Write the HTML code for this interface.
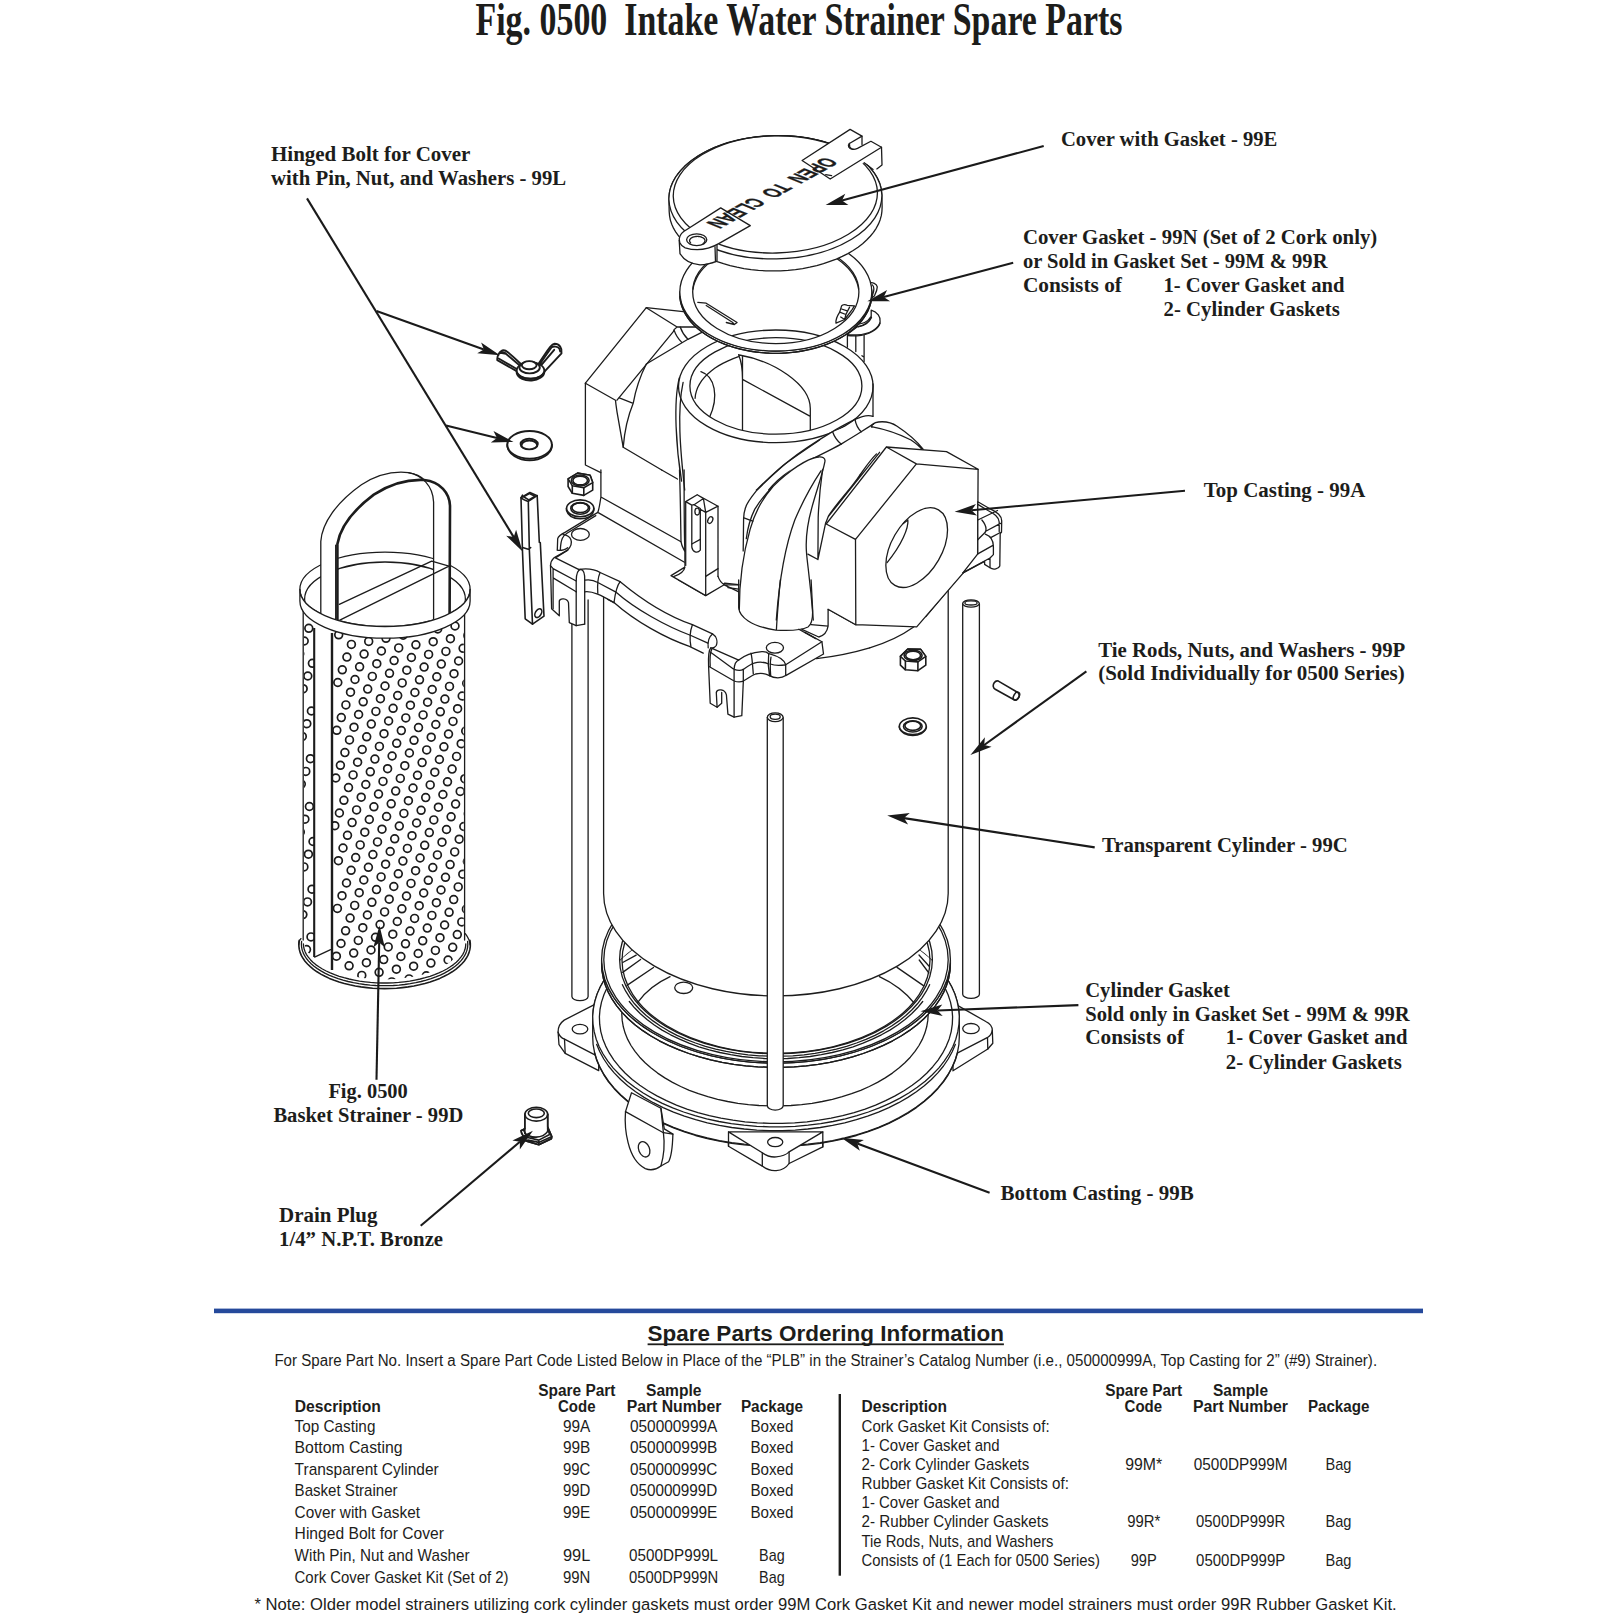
<!DOCTYPE html>
<html lang="en"><head><meta charset="utf-8"><title>Fig. 0500 Intake Water Strainer Spare Parts</title>
<style>
html,body{margin:0;padding:0;background:#fff;}
body{width:1622px;height:1622px;overflow:hidden;}
svg{display:block;}
.ln{fill:none;stroke:#1c1c1c;stroke-width:1.3;stroke-linecap:round;stroke-linejoin:round;}
.lw{fill:#fff;stroke:#1c1c1c;stroke-width:1.3;stroke-linecap:round;stroke-linejoin:round;}
.wf{fill:#fff;stroke:none;}
.t15 .ln,.t15 .lw{stroke-width:1.6;}
.t19 .ln,.t19 .lw{stroke-width:1.9;}
.g path,.g ellipse,.g circle,.g line,.g polyline,.g polygon,.g rect{vector-effect:non-scaling-stroke;}
.ar{fill:none;stroke:#1a1a1a;stroke-width:2.1;}
.ah{fill:#1a1a1a;stroke:none;}
.sf{font-family:"Liberation Serif",serif;font-weight:bold;font-size:20.6px;fill:#1d1d1b;}
.ss{font-family:"Liberation Sans",sans-serif;font-size:16.2px;fill:#1d1d1b;}
.sb{font-family:"Liberation Sans",sans-serif;font-weight:bold;font-size:16px;fill:#1d1d1b;}
</style></head><body>
<svg width="1622" height="1622" viewBox="0 0 1622 1622">
<rect width="1622" height="1622" fill="#fff"/>
<!-- 20_bottom.svg -->
<g id="bottom">
<path class="lw" d="M571.9 600.0 L571.9 996.5 A8.1 4.2 0 0 0 588.1 996.5 L588.1 600.0"/>
<path class="lw" d="M962.7 603.5 L962.7 994.2 A8.3 4.2 0 0 0 979.4 994.2 L979.4 603.5"/><ellipse class="lw" cx="971.0" cy="603.5" rx="8.3" ry="3.6"/><ellipse class="ln" cx="971.0" cy="602.9" rx="6.1" ry="2.1"/>
<path class="lw" d="M 597.8 1002.9 L 564.2 1020.1 C 559.3 1023.6 558.0 1027.9 558.1 1032.2 L 559.0 1044.7 L 565.2 1053.3 L 598.7 1070.6 L 598.7 1002.9 Z"/>
<path class="ln" d="M 558.1 1032.2 C 559.3 1036.0 561.6 1038.1 564.5 1039.1 L 597.8 1056.4"/>
<path class="ln" d="M 564.5 1039.1 L 565.2 1053.3"/>
<ellipse class="ln" cx="580.0" cy="1029.1" rx="7.8" ry="4.8"/>
<path class="lw" d="M 952.5 1003.5 L 955.7 1004.4 L 985.8 1021.5 C 990.4 1023.8 992.3 1026.6 992.3 1030.3 L 992.8 1043.3 L 987.8 1049.0 L 953.0 1070.8 Z"/>
<path class="ln" d="M 992.3 1030.3 C 991.8 1034.0 989.5 1036.3 987.2 1037.7 L 953.4 1055.1"/>
<path class="ln" d="M 987.5 1037.7 L 987.8 1049.0"/>
<ellipse class="ln" cx="971.0" cy="1028.6" rx="8.3" ry="5.1"/>
<path class="lw" d="M 728.5 1130.6 L 728.5 1146.3 L 762.3 1166.1 C 766.9 1169.5 772.5 1170.9 776.2 1170.6 C 781.7 1170.2 786.3 1167.6 789.1 1163.5 L 822.8 1146.9 L 822.8 1130.6 Z"/>
<polygon class="lw" points="592.7,1017.9 593.1,1010.3 594.5,1002.7 596.7,995.2 599.8,987.9 603.8,980.6 608.5,973.6 614.2,966.7 620.6,960.1 627.7,953.8 635.6,947.8 644.1,942.2 653.3,936.9 663.1,932.0 673.5,927.5 684.3,923.5 695.6,919.9 707.3,916.8 719.4,914.2 731.7,912.1 744.2,910.6 756.8,909.5 769.6,909.0 782.4,909.0 795.2,909.5 807.8,910.6 820.3,912.1 832.6,914.2 844.7,916.8 856.4,919.9 867.6,923.5 878.5,927.5 888.9,932.0 898.7,936.9 907.9,942.2 916.4,947.8 924.3,953.8 931.4,960.1 937.8,966.7 943.5,973.6 948.2,980.6 952.2,987.9 955.3,995.2 957.5,1002.7 958.9,1010.3 959.3,1017.9 959.3,1036.9 958.9,1044.5 957.5,1052.1 955.3,1059.6 952.2,1066.9 948.2,1074.2 943.5,1081.2 937.8,1088.1 931.4,1094.7 924.3,1101.0 916.4,1107.0 907.9,1112.6 898.7,1117.9 888.9,1122.8 878.5,1127.3 867.6,1131.3 856.4,1134.9 844.7,1138.0 832.6,1140.6 820.3,1142.7 807.8,1144.2 795.2,1145.3 782.4,1145.8 769.6,1145.8 756.8,1145.3 744.2,1144.2 731.7,1142.7 719.4,1140.6 707.3,1138.0 695.6,1134.9 684.4,1131.3 673.5,1127.3 663.1,1122.8 653.3,1117.9 644.1,1112.6 635.6,1107.0 627.7,1101.0 620.6,1094.7 614.2,1088.1 608.5,1081.2 603.8,1074.2 599.8,1066.9 596.7,1059.6 594.5,1052.1 593.1,1044.5 592.7,1036.9"/>
<polyline class="ln" points="957.5,1052.7 955.3,1060.2 952.2,1067.5 948.2,1074.8 943.5,1081.8 937.8,1088.7 931.4,1095.3 924.3,1101.6 916.4,1107.6 907.9,1113.2 898.7,1118.5 888.9,1123.4 878.5,1127.9 867.6,1131.9 856.4,1135.5 844.7,1138.6 832.6,1141.2 820.3,1143.3 807.8,1144.8 795.2,1145.9 782.4,1146.4 769.6,1146.4 756.8,1145.9 744.2,1144.8 731.7,1143.3 719.4,1141.2 707.3,1138.6 695.6,1135.5 684.4,1131.9 673.5,1127.9 663.1,1123.4 653.3,1118.5 644.1,1113.2 635.6,1107.6 627.7,1101.6 620.6,1095.3 614.2,1088.7 608.5,1081.8 603.8,1074.8 599.8,1067.5 596.7,1060.2 594.5,1052.7"/>
<ellipse class="wf" cx="776.0" cy="1017.9" rx="183.3" ry="109.0"/>
<polyline class="ln" points="947.1,978.8 951.3,986.1 954.7,993.5 957.1,1001.1 958.6,1008.7 959.3,1016.3 959.0,1024.0 957.8,1031.7 955.8,1039.2 952.8,1046.7 948.9,1054.0 944.2,1061.2 938.7,1068.1 932.3,1074.8 925.2,1081.2 917.3,1087.3 908.8,1093.0 899.6,1098.4 889.7,1103.4 879.3,1107.9 868.4,1112.0 857.0,1115.7 845.3,1118.8 833.1,1121.5 820.7,1123.6 808.1,1125.2 795.3,1126.3 782.5,1126.8 769.5,1126.8 756.7,1126.3 743.9,1125.2 731.3,1123.6 718.9,1121.5 706.7,1118.8 695.0,1115.7 683.6,1112.0 672.7,1107.9 662.3,1103.4 652.4,1098.4 643.2,1093.0 634.7,1087.3 626.8,1081.2 619.7,1074.8 613.3,1068.1 607.8,1061.2 603.1,1054.0 599.2,1046.7 596.2,1039.2 594.2,1031.7 593.0,1024.0 592.7,1016.3 593.4,1008.7 594.9,1001.1 597.3,993.5 600.7,986.1 604.9,978.8"/>
<polyline class="ln" points="955.3,1044.4 952.2,1051.7 948.2,1059.0 943.5,1066.0 937.8,1072.9 931.4,1079.5 924.3,1085.8 916.4,1091.8 907.9,1097.4 898.7,1102.7 888.9,1107.6 878.5,1112.1 867.6,1116.1 856.4,1119.7 844.7,1122.8 832.6,1125.4 820.3,1127.5 807.8,1129.0 795.2,1130.1 782.4,1130.6 769.6,1130.6 756.8,1130.1 744.2,1129.0 731.7,1127.5 719.4,1125.4 707.3,1122.8 695.6,1119.7 684.4,1116.1 673.5,1112.1 663.1,1107.6 653.3,1102.7 644.1,1097.4 635.6,1091.8 627.7,1085.8 620.6,1079.5 614.2,1072.9 608.5,1066.0 603.8,1059.0 599.8,1051.7 596.7,1044.4"/>
<path class="lw" d="M 728.5 1131.9 L 762.3 1152.8 C 766.9 1156.1 772.5 1157.3 776.2 1156.9 C 781.7 1156.5 786.3 1154.7 789.1 1151.9 L 822.8 1131.9 Z"/>
<path class="ln" d="M 762.3 1152.8 L 762.3 1166.1 M 789.1 1151.9 L 789.1 1163.5 M 728.5 1131.9 L 728.5 1146.3 M 822.8 1131.9 L 822.8 1146.9"/>
<ellipse class="ln" cx="775.2" cy="1142.1" rx="7.6" ry="4.6"/>
<path class="lw" d="M 631.5 1092.7 L 625.5 1111.6 C 624.6 1123.7 626.3 1135.8 628.1 1142.7 C 631.5 1156.5 638.4 1165.2 645.3 1168.6 C 650.5 1170.7 655.7 1170.0 660.9 1166.0 L 668.6 1161.7 C 671.6 1156.5 672.6 1144.4 672.9 1134.1 L 664.3 1128.9 L 660.9 1108.2 Z"/>
<path class="ln" d="M 625.5 1111.6 L 663.4 1132.7 L 672.9 1134.1"/>
<path class="ln" d="M 663.4 1132.7 C 664.7 1142.7 664.7 1153.1 660.9 1166.0"/>
<path class="ln" d="M 660.9 1108.2 L 663.4 1132.7"/>
<ellipse class="ln" cx="644.1" cy="1149.3" rx="5.4" ry="8" transform="rotate(-22 644.1 1149.3)"/>
<polyline class="ln" points="944.9,987.7 948.1,994.8 950.5,1002.1 952.0,1009.5 952.6,1016.8 952.3,1024.2 951.2,1031.6 949.2,1038.9 946.3,1046.1 942.6,1053.2 938.1,1060.1 932.8,1066.7 926.7,1073.2 919.8,1079.4 912.2,1085.2 904.0,1090.8 895.1,1095.9 885.6,1100.7 875.6,1105.1 865.1,1109.1 854.1,1112.6 842.7,1115.6 831.1,1118.2 819.1,1120.2 807.0,1121.8 794.6,1122.8 782.2,1123.3 769.8,1123.3 757.4,1122.8 745.0,1121.8 732.9,1120.2 720.9,1118.2 709.3,1115.6 697.9,1112.6 686.9,1109.1 676.4,1105.1 666.4,1100.7 656.9,1095.9 648.0,1090.8 639.8,1085.2 632.2,1079.4 625.3,1073.2 619.2,1066.7 613.9,1060.1 609.4,1053.2 605.7,1046.1 602.8,1038.9 600.8,1031.6 599.7,1024.2 599.4,1016.8 600.0,1009.5 601.5,1002.1 603.9,994.8 607.1,987.7"/>
<polyline class="ln" points="924.9,994.9 926.7,1001.2 927.8,1007.6 928.2,1014.0 927.8,1020.4 926.7,1026.8 924.9,1033.1 922.3,1039.4 919.0,1045.5 915.0,1051.4 910.3,1057.2 904.9,1062.8 898.9,1068.1 892.4,1073.1 885.2,1077.9 877.5,1082.4 869.3,1086.5 860.7,1090.3 851.6,1093.7 842.2,1096.7 832.4,1099.3 822.3,1101.5 812.1,1103.3 801.6,1104.6 791.0,1105.5 780.3,1105.9 769.7,1105.9 759.0,1105.5 748.4,1104.6 737.9,1103.3 727.7,1101.5 717.6,1099.3 707.8,1096.7 698.4,1093.7 689.3,1090.3 680.7,1086.5 672.5,1082.4 664.8,1077.9 657.6,1073.1 651.1,1068.1 645.1,1062.8 639.7,1057.2 635.0,1051.4 631.0,1045.5 627.7,1039.4 625.1,1033.1 623.3,1026.8 622.2,1020.4 621.8,1014.0 622.2,1007.6 623.3,1001.2 625.1,994.9"/>
<line class="ln" x1="622.7" y1="962.5" x2="636.2" y2="955.1"/>
<line class="ln" x1="622.7" y1="972.4" x2="640.6" y2="959.5"/>
<line class="ln" x1="627.0" y1="985.4" x2="653.5" y2="967.5"/>
<path class="ln" d="M 637.5 1002.6 C 645.5 991.5 656.6 982.9 670.1 976.7"/>
<line class="ln" x1="928.9" y1="973.0" x2="919.2" y2="960.0"/>
<line class="ln" x1="923.8" y1="985.9" x2="897.0" y2="967.4"/>
<path class="ln" d="M 914.6 1003.5 C 906.3 993.3 893.3 983.1 879.4 976.7"/>
<line class="ln" x1="928.9" y1="966.0" x2="919.0" y2="955.0"/>
<ellipse class="ln" cx="683.7" cy="987.8" rx="9.0" ry="5.7"/>
<polygon class="lw" points="950.4,959.5 950.0,966.7 948.7,973.9 946.6,981.0 943.6,988.1 939.9,994.9 935.3,1001.6 930.0,1008.1 923.9,1014.4 917.1,1020.4 909.6,1026.1 901.5,1031.5 892.7,1036.5 883.4,1041.1 873.5,1045.4 863.2,1049.2 852.5,1052.6 841.3,1055.6 829.9,1058.0 818.2,1060.0 806.3,1061.5 794.2,1062.5 782.1,1063.0 769.9,1063.0 757.8,1062.5 745.7,1061.5 733.8,1060.0 722.1,1058.0 710.7,1055.6 699.5,1052.6 688.8,1049.2 678.5,1045.4 668.6,1041.1 659.3,1036.5 650.5,1031.5 642.4,1026.1 634.9,1020.4 628.1,1014.4 622.0,1008.1 616.7,1001.6 612.1,994.9 608.4,988.1 605.4,981.0 603.3,973.9 602.0,966.7 601.6,959.5 601.6,963.8 602.0,971.0 603.3,978.2 605.4,985.3 608.4,992.4 612.1,999.2 616.7,1005.9 622.0,1012.4 628.1,1018.7 634.9,1024.7 642.4,1030.4 650.5,1035.8 659.3,1040.8 668.6,1045.4 678.5,1049.7 688.8,1053.5 699.5,1056.9 710.7,1059.9 722.1,1062.3 733.8,1064.3 745.7,1065.8 757.8,1066.8 769.9,1067.3 782.1,1067.3 794.2,1066.8 806.3,1065.8 818.2,1064.3 829.9,1062.3 841.3,1059.9 852.5,1056.9 863.2,1053.5 873.5,1049.7 883.4,1045.4 892.7,1040.8 901.5,1035.8 909.6,1030.4 917.1,1024.7 923.9,1018.7 930.0,1012.4 935.3,1005.9 939.9,999.2 943.6,992.4 946.6,985.3 948.7,978.2 950.0,971.0 950.4,963.8"/>
<path class="lw" d="M601.6 959.5 a174.4 103.6 0 1 0 348.8 0 a174.4 103.6 0 1 0 -348.8 0 Z M619.6 959.5 a156.4 94.2 0 1 1 312.8 0 a156.4 94.2 0 1 1 -312.8 0 Z" fill-rule="evenodd"/>
<polyline class="ln" points="950.4,963.8 950.0,971.0 948.7,978.2 946.6,985.3 943.6,992.4 939.9,999.2 935.3,1005.9 930.0,1012.4 923.9,1018.7 917.1,1024.7 909.6,1030.4 901.5,1035.8 892.7,1040.8 883.4,1045.4 873.5,1049.7 863.2,1053.5 852.5,1056.9 841.3,1059.9 829.9,1062.3 818.2,1064.3 806.3,1065.8 794.2,1066.8 782.1,1067.3 769.9,1067.3 757.8,1066.8 745.7,1065.8 733.8,1064.3 722.1,1062.3 710.7,1059.9 699.5,1056.9 688.8,1053.5 678.5,1049.7 668.6,1045.4 659.3,1040.8 650.5,1035.8 642.4,1030.4 634.9,1024.7 628.1,1018.7 622.0,1012.4 616.7,1005.9 612.1,999.2 608.4,992.4 605.4,985.3 603.3,978.2 602.0,971.0 601.6,963.8"/>
<ellipse class="ln" cx="776.0" cy="959.7" rx="172.2" ry="102.1"/>
<polyline class="ln" points="922.7,1001.5 917.5,1007.8 911.6,1013.8 905.0,1019.5 897.7,1025.0 889.9,1030.1 881.4,1034.8 872.4,1039.2 863.0,1043.2 853.1,1046.8 842.8,1049.9 832.2,1052.5 821.3,1054.7 810.2,1056.5 798.9,1057.7 787.5,1058.5 776.0,1058.7 764.5,1058.5 753.1,1057.7 741.8,1056.5 730.7,1054.7 719.8,1052.5 709.2,1049.9 698.9,1046.8 689.0,1043.2 679.6,1039.2 670.6,1034.8 662.1,1030.1 654.3,1025.0 647.0,1019.5 640.4,1013.8 634.5,1007.8 629.3,1001.5"/>
<polyline class="ln" points="929.6,984.7 926.3,991.2 922.2,997.6 917.5,1003.8 912.0,1009.8 905.8,1015.5 899.0,1020.9 891.6,1026.0 883.6,1030.8 875.0,1035.3 866.0,1039.3 856.5,1043.0 846.6,1046.3 836.3,1049.1 825.8,1051.4 815.0,1053.4 804.0,1054.8 792.8,1055.8 781.6,1056.2 770.4,1056.2 759.2,1055.8 748.0,1054.8 737.0,1053.4 726.2,1051.4 715.7,1049.1 705.4,1046.3 695.5,1043.0 686.0,1039.3 677.0,1035.3 668.4,1030.8 660.4,1026.0 653.0,1020.9 646.2,1015.5 640.0,1009.8 634.5,1003.8 629.8,997.6 625.7,991.2 622.4,984.7"/>
<ellipse class="ln" cx="776.0" cy="960.3" rx="154.0" ry="93.0"/>
<path class="lw" d="M603.6 560 L603.6 893.4 A172.3 102.6 0 0 0 948.2 893.4 L948.2 560 Z"/>
</g>

<!-- 30_basket.svg -->
<g id="basket">
<path class="wf" d="M303.2 598 L303.2 940 A80.7 41.0 0 0 0 464.6 940 L464.6 598 Z"/>
<clipPath id="bk"><path d="M304.0 600 A80.7 37.2 0 0 0 463.8 600 L463.8 940 A79.9 39.5 0 0 1 304.0 940 Z"/></clipPath>
<g clip-path="url(#bk)" fill="none" stroke="#1c1c1c" stroke-width="1.7">
<circle cx="300.6" cy="606.0" r="3.9"/>
<circle cx="308.8" cy="628.3" r="3.9"/>
<circle cx="304.2" cy="641.0" r="3.9"/>
<circle cx="299.7" cy="653.7" r="3.9"/>
<circle cx="312.4" cy="663.3" r="3.9"/>
<circle cx="307.8" cy="676.0" r="3.9"/>
<circle cx="303.2" cy="688.7" r="3.9"/>
<circle cx="338.7" cy="634.8" r="3.9"/>
<circle cx="311.4" cy="711.0" r="3.9"/>
<circle cx="306.8" cy="723.7" r="3.9"/>
<circle cx="302.3" cy="736.4" r="3.9"/>
<circle cx="351.4" cy="644.4" r="3.9"/>
<circle cx="346.9" cy="657.1" r="3.9"/>
<circle cx="342.3" cy="669.8" r="3.9"/>
<circle cx="337.8" cy="682.5" r="3.9"/>
<circle cx="310.4" cy="758.7" r="3.9"/>
<circle cx="305.8" cy="771.4" r="3.9"/>
<circle cx="301.3" cy="784.1" r="3.9"/>
<circle cx="368.7" cy="641.4" r="3.9"/>
<circle cx="364.1" cy="654.1" r="3.9"/>
<circle cx="359.6" cy="666.8" r="3.9"/>
<circle cx="355.0" cy="679.5" r="3.9"/>
<circle cx="350.5" cy="692.2" r="3.9"/>
<circle cx="345.9" cy="704.9" r="3.9"/>
<circle cx="341.3" cy="717.6" r="3.9"/>
<circle cx="336.8" cy="730.3" r="3.9"/>
<circle cx="309.4" cy="806.5" r="3.9"/>
<circle cx="304.9" cy="819.2" r="3.9"/>
<circle cx="300.3" cy="831.9" r="3.9"/>
<circle cx="386.0" cy="638.3" r="3.9"/>
<circle cx="381.4" cy="651.0" r="3.9"/>
<circle cx="376.8" cy="663.7" r="3.9"/>
<circle cx="372.3" cy="676.4" r="3.9"/>
<circle cx="367.7" cy="689.1" r="3.9"/>
<circle cx="363.2" cy="701.8" r="3.9"/>
<circle cx="358.6" cy="714.5" r="3.9"/>
<circle cx="354.0" cy="727.2" r="3.9"/>
<circle cx="349.5" cy="739.9" r="3.9"/>
<circle cx="344.9" cy="752.6" r="3.9"/>
<circle cx="340.4" cy="765.3" r="3.9"/>
<circle cx="335.8" cy="778.0" r="3.9"/>
<circle cx="313.0" cy="841.5" r="3.9"/>
<circle cx="308.4" cy="854.2" r="3.9"/>
<circle cx="303.9" cy="866.9" r="3.9"/>
<circle cx="299.3" cy="879.6" r="3.9"/>
<circle cx="403.2" cy="635.2" r="3.9"/>
<circle cx="398.7" cy="647.9" r="3.9"/>
<circle cx="394.1" cy="660.6" r="3.9"/>
<circle cx="389.5" cy="673.3" r="3.9"/>
<circle cx="385.0" cy="686.0" r="3.9"/>
<circle cx="380.4" cy="698.7" r="3.9"/>
<circle cx="375.9" cy="711.4" r="3.9"/>
<circle cx="371.3" cy="724.1" r="3.9"/>
<circle cx="366.7" cy="736.8" r="3.9"/>
<circle cx="362.2" cy="749.5" r="3.9"/>
<circle cx="357.6" cy="762.2" r="3.9"/>
<circle cx="353.1" cy="774.9" r="3.9"/>
<circle cx="348.5" cy="787.6" r="3.9"/>
<circle cx="343.9" cy="800.3" r="3.9"/>
<circle cx="339.4" cy="813.0" r="3.9"/>
<circle cx="334.8" cy="825.7" r="3.9"/>
<circle cx="312.0" cy="889.2" r="3.9"/>
<circle cx="307.5" cy="901.9" r="3.9"/>
<circle cx="302.9" cy="914.6" r="3.9"/>
<circle cx="415.9" cy="644.8" r="3.9"/>
<circle cx="411.4" cy="657.5" r="3.9"/>
<circle cx="406.8" cy="670.2" r="3.9"/>
<circle cx="402.2" cy="682.9" r="3.9"/>
<circle cx="397.7" cy="695.6" r="3.9"/>
<circle cx="393.1" cy="708.3" r="3.9"/>
<circle cx="388.6" cy="721.0" r="3.9"/>
<circle cx="384.0" cy="733.7" r="3.9"/>
<circle cx="379.4" cy="746.4" r="3.9"/>
<circle cx="374.9" cy="759.1" r="3.9"/>
<circle cx="370.3" cy="771.8" r="3.9"/>
<circle cx="365.8" cy="784.5" r="3.9"/>
<circle cx="361.2" cy="797.2" r="3.9"/>
<circle cx="356.6" cy="809.9" r="3.9"/>
<circle cx="352.1" cy="822.6" r="3.9"/>
<circle cx="347.5" cy="835.3" r="3.9"/>
<circle cx="343.0" cy="848.0" r="3.9"/>
<circle cx="338.4" cy="860.7" r="3.9"/>
<circle cx="311.0" cy="936.9" r="3.9"/>
<circle cx="306.5" cy="949.6" r="3.9"/>
<circle cx="437.7" cy="629.0" r="3.9"/>
<circle cx="433.2" cy="641.7" r="3.9"/>
<circle cx="428.6" cy="654.4" r="3.9"/>
<circle cx="424.1" cy="667.1" r="3.9"/>
<circle cx="419.5" cy="679.8" r="3.9"/>
<circle cx="414.9" cy="692.5" r="3.9"/>
<circle cx="410.4" cy="705.2" r="3.9"/>
<circle cx="405.8" cy="717.9" r="3.9"/>
<circle cx="401.3" cy="730.6" r="3.9"/>
<circle cx="396.7" cy="743.3" r="3.9"/>
<circle cx="392.1" cy="756.0" r="3.9"/>
<circle cx="387.6" cy="768.7" r="3.9"/>
<circle cx="383.0" cy="781.4" r="3.9"/>
<circle cx="378.5" cy="794.1" r="3.9"/>
<circle cx="373.9" cy="806.8" r="3.9"/>
<circle cx="369.3" cy="819.5" r="3.9"/>
<circle cx="364.8" cy="832.2" r="3.9"/>
<circle cx="360.2" cy="844.9" r="3.9"/>
<circle cx="355.7" cy="857.6" r="3.9"/>
<circle cx="351.1" cy="870.3" r="3.9"/>
<circle cx="346.5" cy="883.0" r="3.9"/>
<circle cx="342.0" cy="895.7" r="3.9"/>
<circle cx="337.4" cy="908.4" r="3.9"/>
<circle cx="455.0" cy="626.0" r="3.9"/>
<circle cx="450.4" cy="638.7" r="3.9"/>
<circle cx="445.9" cy="651.4" r="3.9"/>
<circle cx="441.3" cy="664.1" r="3.9"/>
<circle cx="436.8" cy="676.8" r="3.9"/>
<circle cx="432.2" cy="689.5" r="3.9"/>
<circle cx="427.6" cy="702.2" r="3.9"/>
<circle cx="423.1" cy="714.9" r="3.9"/>
<circle cx="418.5" cy="727.6" r="3.9"/>
<circle cx="414.0" cy="740.3" r="3.9"/>
<circle cx="409.4" cy="753.0" r="3.9"/>
<circle cx="404.8" cy="765.7" r="3.9"/>
<circle cx="400.3" cy="778.4" r="3.9"/>
<circle cx="395.7" cy="791.1" r="3.9"/>
<circle cx="391.2" cy="803.8" r="3.9"/>
<circle cx="386.6" cy="816.5" r="3.9"/>
<circle cx="382.0" cy="829.2" r="3.9"/>
<circle cx="377.5" cy="841.9" r="3.9"/>
<circle cx="372.9" cy="854.6" r="3.9"/>
<circle cx="368.4" cy="867.3" r="3.9"/>
<circle cx="363.8" cy="880.0" r="3.9"/>
<circle cx="359.2" cy="892.7" r="3.9"/>
<circle cx="354.7" cy="905.4" r="3.9"/>
<circle cx="350.1" cy="918.1" r="3.9"/>
<circle cx="345.6" cy="930.8" r="3.9"/>
<circle cx="341.0" cy="943.5" r="3.9"/>
<circle cx="336.4" cy="956.2" r="3.9"/>
<circle cx="467.7" cy="635.6" r="3.9"/>
<circle cx="463.1" cy="648.3" r="3.9"/>
<circle cx="458.6" cy="661.0" r="3.9"/>
<circle cx="454.0" cy="673.7" r="3.9"/>
<circle cx="449.5" cy="686.4" r="3.9"/>
<circle cx="444.9" cy="699.1" r="3.9"/>
<circle cx="440.3" cy="711.8" r="3.9"/>
<circle cx="435.8" cy="724.5" r="3.9"/>
<circle cx="431.2" cy="737.2" r="3.9"/>
<circle cx="426.7" cy="749.9" r="3.9"/>
<circle cx="422.1" cy="762.6" r="3.9"/>
<circle cx="417.5" cy="775.3" r="3.9"/>
<circle cx="413.0" cy="788.0" r="3.9"/>
<circle cx="408.4" cy="800.7" r="3.9"/>
<circle cx="403.9" cy="813.4" r="3.9"/>
<circle cx="399.3" cy="826.1" r="3.9"/>
<circle cx="394.7" cy="838.8" r="3.9"/>
<circle cx="390.2" cy="851.5" r="3.9"/>
<circle cx="385.6" cy="864.2" r="3.9"/>
<circle cx="381.1" cy="876.9" r="3.9"/>
<circle cx="376.5" cy="889.6" r="3.9"/>
<circle cx="371.9" cy="902.3" r="3.9"/>
<circle cx="367.4" cy="915.0" r="3.9"/>
<circle cx="362.8" cy="927.7" r="3.9"/>
<circle cx="358.3" cy="940.4" r="3.9"/>
<circle cx="353.7" cy="953.1" r="3.9"/>
<circle cx="349.1" cy="965.8" r="3.9"/>
<circle cx="466.7" cy="683.3" r="3.9"/>
<circle cx="462.2" cy="696.0" r="3.9"/>
<circle cx="457.6" cy="708.7" r="3.9"/>
<circle cx="453.0" cy="721.4" r="3.9"/>
<circle cx="448.5" cy="734.1" r="3.9"/>
<circle cx="443.9" cy="746.8" r="3.9"/>
<circle cx="439.4" cy="759.5" r="3.9"/>
<circle cx="434.8" cy="772.2" r="3.9"/>
<circle cx="430.2" cy="784.9" r="3.9"/>
<circle cx="425.7" cy="797.6" r="3.9"/>
<circle cx="421.1" cy="810.3" r="3.9"/>
<circle cx="416.6" cy="823.0" r="3.9"/>
<circle cx="412.0" cy="835.7" r="3.9"/>
<circle cx="407.4" cy="848.4" r="3.9"/>
<circle cx="402.9" cy="861.1" r="3.9"/>
<circle cx="398.3" cy="873.8" r="3.9"/>
<circle cx="393.8" cy="886.5" r="3.9"/>
<circle cx="389.2" cy="899.2" r="3.9"/>
<circle cx="384.6" cy="911.9" r="3.9"/>
<circle cx="380.1" cy="924.6" r="3.9"/>
<circle cx="375.5" cy="937.3" r="3.9"/>
<circle cx="371.0" cy="950.0" r="3.9"/>
<circle cx="366.4" cy="962.7" r="3.9"/>
<circle cx="361.8" cy="975.4" r="3.9"/>
<circle cx="465.7" cy="731.0" r="3.9"/>
<circle cx="461.2" cy="743.7" r="3.9"/>
<circle cx="456.6" cy="756.4" r="3.9"/>
<circle cx="452.1" cy="769.1" r="3.9"/>
<circle cx="447.5" cy="781.8" r="3.9"/>
<circle cx="442.9" cy="794.5" r="3.9"/>
<circle cx="438.4" cy="807.2" r="3.9"/>
<circle cx="433.8" cy="819.9" r="3.9"/>
<circle cx="429.3" cy="832.6" r="3.9"/>
<circle cx="424.7" cy="845.3" r="3.9"/>
<circle cx="420.1" cy="858.0" r="3.9"/>
<circle cx="415.6" cy="870.7" r="3.9"/>
<circle cx="411.0" cy="883.4" r="3.9"/>
<circle cx="406.5" cy="896.1" r="3.9"/>
<circle cx="401.9" cy="908.8" r="3.9"/>
<circle cx="397.3" cy="921.5" r="3.9"/>
<circle cx="392.8" cy="934.2" r="3.9"/>
<circle cx="388.2" cy="946.9" r="3.9"/>
<circle cx="383.7" cy="959.6" r="3.9"/>
<circle cx="379.1" cy="972.3" r="3.9"/>
<circle cx="464.8" cy="778.7" r="3.9"/>
<circle cx="460.2" cy="791.4" r="3.9"/>
<circle cx="455.6" cy="804.1" r="3.9"/>
<circle cx="451.1" cy="816.8" r="3.9"/>
<circle cx="446.5" cy="829.5" r="3.9"/>
<circle cx="442.0" cy="842.2" r="3.9"/>
<circle cx="437.4" cy="854.9" r="3.9"/>
<circle cx="432.8" cy="867.6" r="3.9"/>
<circle cx="428.3" cy="880.3" r="3.9"/>
<circle cx="423.7" cy="893.0" r="3.9"/>
<circle cx="419.2" cy="905.7" r="3.9"/>
<circle cx="414.6" cy="918.4" r="3.9"/>
<circle cx="410.0" cy="931.1" r="3.9"/>
<circle cx="405.5" cy="943.8" r="3.9"/>
<circle cx="400.9" cy="956.5" r="3.9"/>
<circle cx="396.4" cy="969.2" r="3.9"/>
<circle cx="391.8" cy="981.9" r="3.9"/>
<circle cx="468.3" cy="813.8" r="3.9"/>
<circle cx="463.8" cy="826.5" r="3.9"/>
<circle cx="459.2" cy="839.2" r="3.9"/>
<circle cx="454.7" cy="851.9" r="3.9"/>
<circle cx="450.1" cy="864.6" r="3.9"/>
<circle cx="445.5" cy="877.3" r="3.9"/>
<circle cx="441.0" cy="890.0" r="3.9"/>
<circle cx="436.4" cy="902.7" r="3.9"/>
<circle cx="431.9" cy="915.4" r="3.9"/>
<circle cx="427.3" cy="928.1" r="3.9"/>
<circle cx="422.7" cy="940.8" r="3.9"/>
<circle cx="418.2" cy="953.5" r="3.9"/>
<circle cx="413.6" cy="966.2" r="3.9"/>
<circle cx="409.1" cy="978.9" r="3.9"/>
<circle cx="467.4" cy="861.5" r="3.9"/>
<circle cx="462.8" cy="874.2" r="3.9"/>
<circle cx="458.2" cy="886.9" r="3.9"/>
<circle cx="453.7" cy="899.6" r="3.9"/>
<circle cx="449.1" cy="912.3" r="3.9"/>
<circle cx="444.6" cy="925.0" r="3.9"/>
<circle cx="440.0" cy="937.7" r="3.9"/>
<circle cx="435.4" cy="950.4" r="3.9"/>
<circle cx="430.9" cy="963.1" r="3.9"/>
<circle cx="426.3" cy="975.8" r="3.9"/>
<circle cx="466.4" cy="909.2" r="3.9"/>
<circle cx="461.8" cy="921.9" r="3.9"/>
<circle cx="457.3" cy="934.6" r="3.9"/>
<circle cx="452.7" cy="947.3" r="3.9"/>
<circle cx="448.1" cy="960.0" r="3.9"/>
</g>
<line class="ln" x1="303.2" y1="590.0" x2="303.2" y2="940.0"/>
<line class="ln" x1="464.6" y1="590.0" x2="464.6" y2="940.0"/>
<rect x="314.2" y="600" width="17.8" height="365" fill="#fff"/>
<line x1="314.2" y1="628" x2="314.2" y2="957" stroke="#1c1c1c" stroke-width="2.1"/>
<line x1="332" y1="633" x2="332" y2="970" stroke="#1c1c1c" stroke-width="2.4"/>
<path class="ln" d="M 314.6 957.1 L 330.6 949.7"/>
<polyline class="ln" style="stroke-width:1.6" points="469.9,940.2 470.3,943.3 470.3,946.3 469.9,949.4 469.1,952.4 467.9,955.4 466.2,958.3 464.2,961.2 461.7,964.0 458.9,966.7 455.7,969.3 452.2,971.8 448.4,974.1 444.2,976.3 439.8,978.4 435.0,980.2 430.1,981.9 424.9,983.5 419.5,984.8 413.9,986.0 408.2,986.9 402.4,987.6 396.5,988.2 390.6,988.5 384.6,988.6 378.6,988.5 372.7,988.2 366.8,987.6 361.0,986.9 355.3,986.0 349.7,984.8 344.3,983.5 339.1,981.9 334.2,980.2 329.4,978.4 325.0,976.3 320.8,974.1 317.0,971.8 313.5,969.3 310.3,966.7 307.5,964.0 305.0,961.2 303.0,958.3 301.3,955.4 300.1,952.4 299.3,949.4 298.9,946.3 298.9,943.3 299.3,940.2"/>
<polyline class="ln" points="467.6,941.4 467.8,944.3 467.6,947.2 467.0,950.1 466.0,952.9 464.6,955.7 462.8,958.5 460.6,961.1 458.1,963.7 455.2,966.2 451.9,968.6 448.3,970.9 444.4,973.1 440.3,975.1 435.8,976.9 431.1,978.6 426.2,980.2 421.1,981.5 415.8,982.7 410.3,983.7 404.7,984.5 399.0,985.1 393.3,985.5 387.5,985.7 381.7,985.7 375.9,985.5 370.2,985.1 364.5,984.5 358.9,983.7 353.4,982.7 348.1,981.5 343.0,980.2 338.1,978.6 333.4,976.9 328.9,975.1 324.8,973.1 320.9,970.9 317.3,968.6 314.0,966.2 311.1,963.7 308.6,961.1 306.4,958.5 304.6,955.7 303.2,952.9 302.2,950.1 301.6,947.2 301.4,944.3 301.6,941.4"/>
<polyline class="ln" points="465.8,943.8 465.6,946.5 465.0,949.3 464.0,952.0 462.7,954.6 460.9,957.2 458.8,959.7 456.3,962.2 453.5,964.6 450.3,966.8 446.8,969.0 443.0,971.0 438.9,972.9 434.6,974.7 430.0,976.3 425.2,977.7 420.2,979.0 415.0,980.1 409.7,981.1 404.2,981.8 398.7,982.4 393.1,982.8 387.4,983.0 381.8,983.0 376.1,982.8 370.5,982.4 365.0,981.8 359.5,981.1 354.2,980.1 349.0,979.0 344.0,977.7 339.2,976.3 334.6,974.7 330.3,972.9 326.2,971.0 322.4,969.0 318.9,966.8 315.7,964.6 312.9,962.2 310.4,959.7 308.3,957.2 306.5,954.6 305.2,952.0 304.2,949.3 303.6,946.5 303.4,943.8"/>
<path class="ln" d="M 301.0 938.6 C 299.5 939.9 298.6 942.3 298.6 944.8 M 465.3 933.7 C 468.1 937.4 470.0 941.1 470.0 944.8"/>
<ellipse class="lw" cx="385.0" cy="589.3" rx="85.1" ry="37.2"/>
<clipPath id="bt"><ellipse cx="385.0" cy="589.3" rx="85.1" ry="37.2"/></clipPath>
<g clip-path="url(#bt)"><ellipse class="ln" cx="385.0" cy="599.2" rx="80.4" ry="37.2"/></g>
<path class="wf" d="M 320.8 614.8 L 320.8 541.4 C 322.0 523.0 336.8 502.0 361.4 484.7 C 378.7 473.6 396.0 471.2 408.3 472.6 L 424.3 480.0 C 408.3 479.2 391.0 483.5 373.8 494.6 C 354.1 509.4 340.5 526.7 337.4 543.9 L 337.4 621.6 Z"/>
<path class="wf" d="M 408.3 472.6 C 421.9 474.9 433.0 486.0 433.6 502.0 L 433.6 620.6 L 449.6 614.8 L 450.0 505.7 C 449.6 493.4 440.4 481.6 424.3 480.0 Z"/>
<path class="ln" d="M 320.8 614.8 L 320.8 541.4 C 322.0 523.0 336.8 502.0 361.4 484.7 C 378.7 473.6 396.0 471.2 408.3 472.6 C 421.9 474.9 433.0 486.0 433.6 502.0 L 433.6 620.6"/>
<path class="ln" style="stroke-width:2.6" d="M 337.4 621.6 L 337.4 543.9 C 340.5 526.7 354.1 509.4 373.8 494.6 C 391.0 483.5 408.3 479.2 424.3 480.0 C 440.4 481.6 449.6 493.4 450.0 505.7 L 449.6 614.8"/>
<path class="ln" d="M 335.7 620.6 L 335.7 545.1"/>
<path class="ln" d="M 408.3 472.6 C 418.2 474.2 421.9 477.3 424.3 480.0"/>
<path class="ln" d="M 339.3 604.3 L 431.7 561.2 L 449.0 566.1 L 339.3 620.4"/>
<path class="lw" d="M299.9 589.3 A85.1 37.2 0 0 0 470.1 589.3 L470.1 601.0 A85.1 37.2 0 0 1 299.9 601.0 Z"/>
</g>

<!-- 40_top.svg -->
<g id="topcasting">
<polygon class="wf" points="597.8,512.4 565.4,532.1 558.2,536.3 557.3,550.1 553.9,557.9 551.1,560.9 550.5,565.6 551.6,608.7 559.3,615.7 569.3,622.6 576.2,625.7 584.7,624.1 584.7,591.8 592.4,591.0 606.3,597.9 614.0,602.6 626.3,614.9 647.9,628.8 690.3,645.7 689.4,646.3 701.7,652.4 708.6,666.3 710.2,703.3 717.1,707.2 727.9,714.1 734.1,717.2 741.8,715.6 743.3,681.7 755.6,674.0 763.3,673.2 769.5,675.6 777.2,677.9 785.7,675.6 823.5,654.0 869.7,647.8 912.9,627.5 949.1,588.6 962.1,573.1 977.6,556.3 978.0,470.0 900.0,440.0 700.0,420.0 600.0,450.0"/>
<path class="ln" d="M 597.8 512.4 L 565.4 532.1 C 561.6 534.0 558.2 536.3 557.7 538.6 L 557.3 550.1"/>
<path class="ln" d="M 595.8 515.6 L 567.0 533.2 C 563.1 535.5 560.8 538.6 560.3 550.1"/>
<path class="ln" d="M 563.1 534.7 C 570.8 535.5 574.7 542.4 567.7 550.1 L 553.9 557.9 C 551.6 560.2 550.5 562.5 550.5 565.6 L 551.6 608.7 L 559.3 615.7 L 559.3 601.0 C 560.0 597.9 567.0 597.9 568.5 602.6 L 569.3 622.6 L 576.2 625.7 L 584.7 624.1"/>
<path class="ln" d="M 557.3 550.1 C 561.6 550.9 566.2 549.4 567.7 547.8"/>
<path class="ln" d="M 567.7 550.1 L 555.4 557.9 L 578.5 569.4"/>
<ellipse class="ln" cx="580.4" cy="534.4" rx="8.9" ry="5.9"/>
<path class="ln" d="M 553.1 568.6 L 576.2 581.0 M 553.1 577.9 L 576.2 591.8 M 550.5 565.6 L 553.1 568.6 L 553.1 608.7"/>
<path class="ln" d="M 576.2 591.8 L 576.2 581.0 C 576.2 574.8 577.8 569.9 580.8 569.4 C 583.9 569.9 585.0 574.8 584.7 581.0 L 584.7 624.1"/>
<path class="ln" d="M 578.5 569.4 C 586.2 568.3 593.9 568.6 600.1 572.5 L 620.1 581.7"/>
<path class="ln" d="M 584.7 580.2 C 590.9 579.1 593.9 580.2 597.8 582.5 L 615.5 591.8"/>
<path class="ln" d="M 584.7 591.8 C 592.4 590.7 601.7 595.6 614.0 602.6"/>
<path class="ln" d="M 600.1 572.5 C 598.3 576.4 597.3 585.6 597.8 593.3 M 620.1 581.7 C 617.1 585.6 615.2 593.3 614.0 602.6 L 607.8 599.5"/>
<path class="ln" d="M 576.2 591.8 L 576.2 625.7"/>
<path class="ln" d="M 620.2 581.7 C 643.1 600.8 666.2 615.5 692.4 624.7 L 712.5 633.9 C 716.3 636.3 717.9 640.9 716.3 645.5 C 714.8 647.8 712.5 648.1 710.9 647.8 L 738.7 660.1 C 743.3 656.3 751.0 652.7 761.8 651.7 C 764.9 651.5 767.2 652.1 768.7 653.7"/>
<path class="ln" d="M 615.5 591.7 C 635.4 609.3 666.2 626.2 690.9 635.5 L 707.9 643.2 M 614.0 602.5 C 635.4 621.6 666.2 638.6 689.4 646.3 L 703.2 653.2"/>
<path class="ln" d="M 692.4 624.7 C 690.1 630.9 689.4 638.6 690.9 646.3 M 712.5 633.9 C 708.6 637.0 707.5 641.7 708.2 647.8"/>
<path class="ln" d="M 710.9 647.8 C 708.6 650.1 708.2 657.1 708.6 666.3 L 710.2 703.3 L 717.1 707.2 L 716.3 692.5 C 717.1 688.7 724.8 688.7 726.4 694.8 L 727.9 714.1 L 734.1 717.2 L 741.8 715.6 L 743.3 681.7"/>
<path class="ln" d="M 711.7 649.4 C 710.2 652.4 709.7 657.1 710.2 666.3 M 717.1 707.2 L 721.7 703.3 L 721.7 692.5"/>
<path class="ln" d="M 708.6 666.3 L 734.1 681.0 M 710.9 652.4 L 734.1 669.4 M 734.1 669.4 C 734.4 664.0 736.4 660.9 738.7 660.1 M 734.1 669.4 L 734.1 717.2 M 734.1 669.4 C 738.7 670.9 741.8 670.2 743.3 669.4 M 734.1 681.0 C 738.7 682.5 741.8 681.7 743.3 681.0 M 743.3 669.4 L 743.3 681.7"/>
<path class="ln" d="M 743.3 669.4 C 747.9 666.3 751.0 664.0 754.1 663.2 C 758.7 661.7 763.3 661.7 768.7 664.0 M 743.3 681.0 C 747.9 678.6 751.0 675.6 755.6 674.0 C 760.3 672.8 764.9 673.2 769.5 675.6"/>
<path class="ln" d="M 751.0 653.2 C 752.2 657.1 752.9 669.4 753.3 674.0"/>
<ellipse class="lw" cx="774.9" cy="647.8" rx="8.6" ry="5.4"/>
<path class="ln" d="M 768.7 653.7 C 772.6 654.8 783.4 657.1 785.7 664.8 L 821.9 641.7 L 805.0 632.4 M 768.7 653.7 C 768.0 660.1 768.3 669.4 769.5 675.6 M 771.0 657.1 C 769.8 663.2 770.3 670.9 770.7 675.9"/>
<path class="ln" d="M 769.5 675.6 C 774.1 678.6 781.8 678.6 785.7 675.6 L 785.7 664.8 M 785.7 675.6 L 823.5 654.0 L 821.9 641.7 M 785.7 664.8 C 780.3 665.5 774.1 665.5 770.3 664.0"/>
<path class="ln" d="M 816.5 658.6 C 835.8 656.3 854.3 652.4 869.7 647.8"/>
<path class="ln" d="M 869.7 647.8 C 885.7 643.0 901.2 635.9 912.9 627.5 L 949.1 588.6 L 962.1 573.1"/>
<path class="ln" d="M 925.8 616.5 L 946.5 591.9"/>
<polygon class="wf" points="646.3,307.7 585.4,383.2 585.4,465.0 600.8,472.6 600.9,497.0 597.8,512.4 684.9,562.5 684.9,470.0 690.0,330.0 683.0,312.0"/>
<path class="ln" d="M 683.3 311.6 L 646.3 307.7 L 585.4 383.2"/>
<path class="ln" d="M585.4 383.2 L585.4 465 L600.8 472.6"/>
<path class="ln" d="M 646.3 307.7 L 677.1 327.0 L 695.6 327.0 M 677.1 327.0 C 674.8 328.5 673.7 330.1 673.3 331.6 L 617.0 400.2"/>
<path class="ln" d="M 674.1 330.1 C 675.6 334.7 678.7 339.3 681.8 342.4 M 680.2 327.0 C 681.8 331.6 684.8 336.2 687.9 339.3"/>
<path class="ln" d="M 585.4 383.2 L 615.5 400.2 C 615.8 404.1 616.3 407.1 617.0 411.8 L 623.2 447.2 L 661.7 470.0"/>
<path class="ln" d="M 619.3 397.9 L 633.2 403.3 M 701.8 332.4 L 687.9 339.3 L 646.3 364.0 C 640.1 376.3 635.5 390.2 633.2 403.3 C 627.8 416.4 624.7 428.7 623.2 447.2"/>
<path class="ln" d="M 600.9 470.0 L 600.9 497.0 L 681.0 541.7 M 600.9 497.0 C 600.1 502.4 599.3 508.5 597.8 512.4 L 684.9 562.5"/>
<path class="ln" d="M661.7 470 L681 481"/>
<polygon class="wf" points="678.5,386.3 676.0,440.0 681.0,541.7 684.9,550.1 684.9,567.1 873.0,600.0 873.0,386.3 873.1,386.3 872.9,382.4 872.2,378.5 871.0,374.6 869.3,370.8 867.2,367.0 864.7,363.4 861.7,359.9 858.3,356.5 854.5,353.2 850.3,350.1 845.8,347.2 840.9,344.5 835.7,341.9 830.2,339.6 824.4,337.5 818.5,335.7 812.2,334.1 805.9,332.8 799.3,331.7 792.7,330.9 786.0,330.3 779.2,330.0 772.4,330.0 765.6,330.3 758.9,330.9 752.3,331.7 745.7,332.8 739.4,334.1 733.1,335.7 727.1,337.5 721.4,339.6 715.9,341.9 710.7,344.5 705.8,347.2 701.3,350.1 697.1,353.2 693.3,356.5 689.9,359.9 686.9,363.4 684.4,367.0 682.3,370.8 680.6,374.6 679.4,378.5 678.7,382.4 678.5,386.3"/>
<ellipse class="lw" cx="775.8" cy="386.3" rx="97.3" ry="56.3"/>
<ellipse class="lw" cx="775.9" cy="385.9" rx="86.0" ry="48.2"/>
<clipPath id="bore"><ellipse cx="775.9" cy="385.9" rx="86" ry="48.2"/></clipPath><g clip-path="url(#bore)">
<polyline class="ln" points="695.1,398.3 695.5,394.6 696.4,391.1 697.7,387.5 699.5,384.1 701.7,380.7 704.4,377.4 707.4,374.2 710.9,371.2 714.7,368.3 718.8,365.6 723.3,363.1 728.1,360.8 733.2,358.6 738.5,356.7"/>
<path class="ln" d="M 742.5 356.2 L 742.5 433.3 M 738.6 354.7 C 741.2 360.9 742.5 370.1 742.5 379.4 L 810.3 416.4 M 739.4 355.0 C 773.3 360.9 810.3 384.0 810.3 408.6 L 810.3 433.3"/>
<path class="ln" d="M 700.9 371.7 C 714.7 376.3 719.4 396.3 709.3 417.9"/>
</g>
<path class="ln" d="M 679.3 377.8 C 673.1 402.5 676.2 448.7 681.6 481.1 M 683.1 382.4 C 677.0 410.2 680.1 448.7 684.7 490.0"/>
<path class="ln" d="M 679.5 470.0 C 680.3 493.1 680.6 516.2 681.0 541.7 C 681.8 547.1 684.1 549.4 684.9 551.7 L 684.9 567.1 M 684.1 470.0 C 684.1 500.8 684.1 531.7 684.9 551.7"/>
<path class="ln" d="M 873.0 384.0 L 873.0 416.4"/>
<polygon class="wf" points="873.0,416.4 899.7,421.0 897.1,426.2 923.3,449.3 886.4,447.0 826.2,524.0 825.6,523.2 817.9,559.5 813.3,620.0 739.3,609.5 743.2,551.0 743.6,518.6 745.5,507.8 756.3,490.9 782.5,466.2 819.5,440.0 831.1,432.5"/>
<path class="ln" d="M 831.1 432.5 C 839.6 427.1 848.8 422.5 855.0 419.4 C 861.2 416.4 867.3 414.0 873.0 416.4 M 841.1 444.1 C 848.8 439.5 856.5 434.8 861.2 431.8 C 865.8 428.7 870.4 425.6 873.5 424.1"/>
<path class="ln" d="M 832.6 431.8 C 834.2 436.4 837.3 441.0 841.1 444.1 M 855.0 419.4 C 855.8 424.1 858.1 428.7 861.2 431.8"/>
<path class="ln" d="M 831.1 432.5 C 819.5 439.5 804.1 448.7 788.7 461.0 C 776.4 470.3 765.6 481.1 756.4 490.0"/>
<path class="ln" d="M 841.1 444.1 C 827.3 451.8 804.1 462.6 788.7 471.8 C 779.5 478.0 773.3 484.2 768.7 490.0"/>
<path class="ln" d="M 871.7 425.4 C 874.8 420.8 887.9 420.0 897.1 426.2 C 906.4 432.3 917.2 441.6 923.3 449.3 M 872.5 426.9 C 884.8 429.2 901.8 435.4 911.0 440.0 C 915.6 443.1 919.5 446.2 921.8 449.3"/>
<path class="ln" d="M 871.7 425.4 C 870.9 426.9 871.7 427.7 872.5 426.9"/>
<path class="ln" d="M 819.5 440.0 C 804.1 450.8 791.7 458.5 782.5 466.2 C 770.1 477.0 762.4 484.7 756.3 490.9 C 750.1 498.6 746.3 504.7 745.5 507.8 C 743.9 512.4 743.6 517.1 743.6 518.6 L 743.2 551.0"/>
<path class="ln" d="M 773.2 486.2 C 765.5 493.9 759.4 501.7 754.7 509.4 C 750.9 517.1 747.8 526.3 746.3 538.6 M 743.9 517.8 L 754.0 521.7"/>
<polygon class="wf" points="817.9,457.0 797.9,463.1 773.2,486.2 754.7,517.1 743.9,551.0 739.3,586.4 739.3,609.5 738.7,607.7 741.8,617.0 754.1,626.2 775.7,630.1 801.9,629.3 811.1,624.7 812.7,610.8 811.1,580.0 810.2,578.7 806.4,547.9 807.1,526.3 813.3,501.7 822.6,470.8 824.9,460.8"/>
<path class="ln" d="M 817.9 457.0 C 807.1 458.5 788.6 470.8 773.2 486.2 C 762.4 498.6 754.7 512.4 750.1 529.4 C 743.9 551.0 739.3 578.7 739.3 609.5"/>
<path class="ln" d="M 817.9 457.0 C 822.6 456.2 825.6 458.5 824.9 461.6 C 822.6 473.9 816.4 490.9 811.8 507.8 C 807.1 524.8 805.6 538.6 806.4 551.0 C 807.1 563.3 810.2 578.7 813.3 620.0"/>
<path class="ln" d="M 821.0 470.8 C 811.8 484.7 802.5 501.7 794.8 520.1 C 785.6 544.8 779.4 578.7 776.3 620.0"/>
<path class="ln" d="M 822.6 469.3 C 820.2 486.2 818.7 504.7 818.2 517.1 L 817.9 559.5 L 807.9 554.1 M 825.6 523.2 L 817.9 559.5"/>
<path class="ln" d="M 738.7 580.0 L 738.7 607.7 C 739.5 617.0 751.0 626.2 775.7 630.1 C 789.5 630.9 801.9 630.1 808.0 627.0 C 811.9 624.7 812.7 618.5 812.7 610.8 L 811.1 580.0 M 780.3 580.0 C 778.8 597.0 777.2 613.9 776.4 630.1"/>
<path class="ln" d="M 801.9 629.3 L 818.8 637.0 C 825.0 635.5 827.3 630.9 828.1 626.2 L 828.1 609.3 L 855.8 624.7 M 811.1 624.7 L 828.1 626.2 M 798.8 629.3 L 815.7 638.6"/>
<path class="ln" d="M 738.7 584.6 L 724.8 583.1 M 738.7 589.2 L 727.9 587.7 M 724.8 583.1 L 705.5 595.4 L 678.6 580.0 M 705.5 595.4 L 705.5 580.0"/>
<polygon class="wf" points="886.4,447.0 946.5,451.6 978.1,469.3 977.6,556.3 916.7,626.8 855.8,624.7 828.1,609.3 826.2,524.0"/>
<path class="ln" d="M916.4 463.9 L886.4 447 L946.5 451.6 L978.1 469.3 L916.4 463.9 L855.5 539.4 L826.2 524 L886.4 447"/>
<path class="ln" d="M978.1 469.3 L977.6 556.3 L916.7 626.8 L855.8 624.7 L855.5 539.4 M855.8 624.7 L828.1 609.3"/>
<ellipse class="ln" cx="916.7" cy="547.6" rx="43.6" ry="25.2" transform="rotate(-60 916.7 547.6)"/>
<path class="ln" d="M 907.9 519.9 C 908.7 527.9 901.8 544.8 887.1 562.6 M 907.9 519.9 L 903.3 523.6"/>
<path class="ln" d="M 876.5 453.9 C 868.8 461.6 864.2 469.3 859.5 475.5 C 850.3 489.3 838.0 501.7 828.7 515.5 L 825.6 523.2 M 879.6 452.3 L 827.9 517.1"/>
<polygon class="wf" points="685.7,501.6 697.2,494.7 718.0,506.2 718.0,576.4 724.2,584.8 705.7,595.6 671.0,575.6 684.9,567.1"/>
<path class="ln" d="M 685.7 501.6 L 697.2 494.7 L 718.0 506.2 L 705.7 512.4 L 700.3 509.3 M 685.7 501.6 L 691.8 505.1 M 697.2 494.7 L 703.4 498.5 L 705.7 512.4 M 703.4 498.5 L 694.1 504.7 L 691.8 505.1 L 691.8 547.1 C 692.6 551.7 697.2 554.0 700.3 550.1 L 700.3 509.3"/>
<path class="ln" d="M 705.7 512.4 L 705.7 595.6 M 718.0 506.2 L 718.0 576.4 M 685.7 501.6 L 685.7 565.6 M 700.3 508.5 L 694.1 504.7 M 691.8 544.0 L 700.3 539.4"/>
<path class="ln" d="M 671.0 575.6 L 705.7 595.6 L 724.2 584.8 M 671.0 575.6 L 684.9 567.1 C 684.1 571.7 678.7 574.8 674.1 576.4 M 705.7 576.4 L 718.0 568.6 M 718.0 576.4 C 719.6 581.0 721.9 583.3 724.2 584.8 L 738.8 584.8 M 724.2 584.8 L 738.8 591.8"/>
<ellipse class="ln" cx="697.2" cy="511.6" rx="2.3" ry="3.4"/>
<ellipse class="ln" cx="710.3" cy="520.1" rx="2.3" ry="3.5" transform="rotate(25 710.3 520.1)"/>
</g>

<!-- 50_cover.svg -->
<g id="cover">
<path class="ln" d="M 847.4 335.5 L 847.4 347.2 M 855.8 335.5 L 855.8 351.5 M 864.1 335.5 L 864.1 361.4 M 861.9 355.8 L 864.1 357.1"/>
<path class="lw" d="M 871.2 310.2 C 877.3 312.1 881.0 317.0 880.1 321.9 C 878.9 328.7 869.3 334.3 857.0 334.9 C 853.3 335.1 849.6 334.9 847.1 334.6 L 857.0 326.9 C 864.4 325.6 869.3 321.9 871.2 317.0 Z"/>
<path class="ln" d="M 880.1 323.2 C 878.0 329.3 869.3 334.9 857.0 335.8 C 853.3 336.0 850.2 335.8 847.7 335.5"/>
<path class="ln" d="M 857.0 324.4 C 863.2 323.8 868.1 321.3 870.6 317.0 M 858.2 326.9 C 864.4 325.9 869.3 322.5 871.5 317.6"/>
<path class="lw" d="M 836.0 323.2 C 835.4 319.5 837.3 315.8 839.7 312.1 L 841.6 305.9 C 842.8 304.0 845.9 304.4 847.1 305.3 L 854.5 305.9 L 852.1 309.6 L 844.7 319.5 Z"/>
<path class="ln" d="M 839.7 312.1 L 845.9 314.5 L 849.6 307.1 M 841.6 309.0 L 847.1 310.8 M 840.7 317.0 L 844.7 319.5 M 845.9 314.5 L 844.7 319.5"/>
<path class="lw" d="M 869.3 283.1 C 872.4 281.8 876.7 283.7 877.3 286.8 C 877.3 290.5 875.5 293.6 874.3 296.0 L 871.8 297.9 C 872.4 292.3 871.8 287.4 869.3 283.1 Z"/>
<path class="ln" d="M 872.4 284.9 C 874.3 286.8 874.3 290.5 872.4 295.4"/>
<polygon class="lw" points="871.8,292.0 871.6,296.1 870.9,300.2 869.7,304.3 868.1,308.3 866.0,312.2 863.5,316.0 860.6,319.7 857.2,323.3 853.5,326.7 849.3,329.9 844.9,333.0 840.0,335.8 834.9,338.5 829.5,340.9 823.8,343.1 817.9,345.0 811.8,346.7 805.5,348.1 799.0,349.2 792.5,350.1 785.8,350.7 779.2,351.0 772.4,351.0 765.8,350.7 759.1,350.1 752.6,349.2 746.1,348.1 739.8,346.7 733.7,345.0 727.8,343.1 722.1,340.9 716.7,338.5 711.6,335.8 706.7,333.0 702.3,329.9 698.1,326.7 694.4,323.3 691.0,319.7 688.1,316.0 685.6,312.2 683.5,308.3 681.9,304.3 680.7,300.2 680.0,296.1 679.8,292.0 679.8,294.3 680.0,298.4 680.7,302.5 681.9,306.6 683.5,310.6 685.6,314.5 688.1,318.3 691.0,322.0 694.4,325.6 698.1,329.0 702.3,332.2 706.7,335.3 711.6,338.1 716.7,340.8 722.1,343.2 727.8,345.4 733.7,347.3 739.8,349.0 746.1,350.4 752.6,351.5 759.1,352.4 765.8,353.0 772.4,353.3 779.2,353.3 785.8,353.0 792.5,352.4 799.0,351.5 805.5,350.4 811.8,349.0 817.9,347.3 823.8,345.4 829.5,343.2 834.9,340.8 840.0,338.1 844.9,335.3 849.3,332.2 853.5,329.0 857.2,325.6 860.6,322.0 863.5,318.3 866.0,314.5 868.1,310.6 869.7,306.6 870.9,302.5 871.6,298.4 871.8,294.3"/>
<path class="lw" d="M679.8 292.0 a96 59 0 1 0 192 0 a96 59 0 1 0 -192 0 Z M692.7 292.0 a83.1 51.6 0 1 1 166.2 0 a83.1 51.6 0 1 1 -166.2 0 Z" fill-rule="evenodd"/>
<polyline class="ln" points="871.7,296.4 871.3,300.5 870.3,304.5 868.9,308.6 867.1,312.5 864.8,316.4 862.1,320.2 858.9,323.8 855.4,327.3 851.4,330.6 847.1,333.8 842.5,336.7 837.5,339.5 832.2,342.0 826.7,344.3 820.9,346.4 814.8,348.2 808.6,349.7 802.3,351.0 795.8,352.0 789.2,352.7 782.5,353.2 775.8,353.3 769.1,353.2 762.4,352.7 755.8,352.0 749.3,351.0 743.0,349.7 736.8,348.2 730.7,346.4 724.9,344.3 719.4,342.0 714.1,339.5 709.1,336.7 704.5,333.8 700.2,330.6 696.2,327.3 692.7,323.8 689.5,320.2 686.8,316.4 684.5,312.5 682.7,308.6 681.3,304.5 680.3,300.5 679.9,296.4"/>
<polyline class="ln" points="693.0,289.1 693.7,285.5 694.9,281.9 696.4,278.4 698.3,274.9 700.6,271.6 703.3,268.4 706.4,265.2 709.8,262.3 713.5,259.5 717.5,256.8 721.9,254.3 726.5,252.1 731.3,250.0 736.4,248.2 741.6,246.6 747.1,245.2 752.6,244.0 758.3,243.2 764.1,242.5 769.9,242.1 775.8,242.0 781.7,242.1 787.5,242.5 793.3,243.2 799.0,244.0 804.5,245.2 810.0,246.6 815.2,248.2 820.3,250.0 825.1,252.1 829.7,254.3 834.1,256.8 838.1,259.5 841.8,262.3 845.2,265.2 848.3,268.4 851.0,271.6 853.3,274.9 855.2,278.4 856.7,281.9 857.9,285.5 858.6,289.1"/>
<path class="ln" d="M 697.8 302.4 L 706.2 303.2 L 737.1 322.5 L 734.3 324.5 L 726.3 322.5 M 734.3 324.5 L 732.4 322.2 L 706.2 305.5"/>
<g transform="rotate(-1.2 775.4 197.3)">
<polygon class="lw" points="668.9,197.3 669.2,193.0 669.9,188.7 671.2,184.5 673.0,180.3 675.3,176.2 678.1,172.2 681.4,168.4 685.1,164.7 689.2,161.1 693.8,157.7 698.8,154.5 704.1,151.5 709.8,148.8 715.8,146.2 722.1,144.0 728.7,141.9 735.5,140.2 742.5,138.7 749.6,137.5 756.9,136.6 764.3,136.0 771.7,135.7 779.1,135.7 786.5,136.0 793.9,136.6 801.2,137.5 808.3,138.7 815.3,140.2 822.1,141.9 828.6,144.0 835.0,146.2 841.0,148.8 846.7,151.5 852.0,154.5 857.0,157.7 861.6,161.1 865.7,164.7 869.4,168.4 872.7,172.2 875.5,176.2 877.8,180.3 879.6,184.5 880.9,188.7 881.6,193.0 881.9,197.3 881.9,209.3 881.6,213.6 880.9,217.9 879.6,222.1 877.8,226.3 875.5,230.4 872.7,234.4 869.4,238.2 865.7,241.9 861.6,245.5 857.0,248.9 852.0,252.1 846.7,255.1 841.0,257.8 835.0,260.4 828.6,262.6 822.1,264.7 815.3,266.4 808.3,267.9 801.2,269.1 793.9,270.0 786.5,270.6 779.1,270.9 771.7,270.9 764.3,270.6 756.9,270.0 749.6,269.1 742.5,267.9 735.5,266.4 728.7,264.7 722.1,262.6 715.8,260.4 709.8,257.8 704.1,255.1 698.8,252.1 693.8,248.9 689.2,245.5 685.1,241.9 681.4,238.2 678.1,234.4 675.3,230.4 673.0,226.3 671.2,222.1 669.9,217.9 669.2,213.6 668.9,209.3"/>
<ellipse class="lw" cx="775.4" cy="197.3" rx="106.5" ry="61.6"/>
<ellipse class="ln" cx="775.4" cy="194.4" rx="102.1" ry="58.6"/>
</g>
<path class="wf" d="M 802.1 160.5 L 850.1 129.4 L 862.0 136.1 L 862.0 144.2 L 870.9 141.3 L 881.5 147.2 L 882.0 165.0 L 876.8 168.9 L 864.2 162.7 L 830.2 179.0 Z"/>
<path class="ln" d="M 802.1 160.5 L 850.1 129.4 L 862.0 136.1 L 849.4 143.5 C 847.2 145.7 848.7 148.7 852.4 149.4 C 854.6 149.7 856.1 149.1 857.5 148.4 L 870.9 141.3 L 881.5 147.2 L 830.2 179.0 Z"/>
<path class="ln" d="M 881.5 147.2 L 882.0 165.0 L 876.8 168.9 M 862.0 136.1 L 862.0 144.5 M 849.4 143.5 L 849.8 147.2 C 850.9 148.7 852.4 149.4 853.8 149.4 M 825.7 174.6 L 831.6 175.6 M 864.2 162.7 L 873.1 169.4"/>
<path class="wf" d="M 720.7 207.9 L 750.3 225.6 L 717.0 245.6 L 717.0 261.1 C 708.8 264.1 698.5 265.6 686.6 261.1 L 680.0 253.7 L 679.2 240.4 C 678.5 237.5 680.7 233.8 683.7 231.5 Z"/>
<path class="ln" d="M 720.7 207.9 L 750.3 225.6 L 719.2 243.4 C 708.8 249.3 697.0 251.5 685.2 247.8 C 680.0 245.6 677.8 240.4 680.0 236.0 C 680.7 233.8 682.2 232.6 683.7 231.5 Z"/>
<path class="ln" d="M 679.2 240.4 L 680.0 253.7 C 683.7 259.7 691.1 264.1 700.0 264.8 C 707.4 264.8 713.3 262.6 717.0 261.1 L 717.0 245.2 M 715.0 246.6 L 715.5 261.9"/>
<ellipse class="ln" cx="696.7" cy="239.7" rx="10.1" ry="5.9"/>
<polyline class="ln" points="690.6,242.9 690.4,242.6 690.2,242.3 690.0,242.0 689.8,241.7 689.7,241.4 689.6,241.1 689.6,240.8 689.6,240.5 689.6,240.2 689.7,239.9 689.8,239.7 690.0,239.4 690.2,239.1 690.4,238.8 690.7,238.5 690.9,238.3 691.3,238.0 691.6,237.8 692.0,237.6 692.4,237.4 692.8,237.2 693.3,237.0 693.8,236.9 694.3,236.8 694.8,236.7 695.3,236.6 695.8,236.5 696.3,236.5 696.9,236.4 697.4,236.4 698.0,236.4 698.5,236.5 699.0,236.5 699.6,236.6 700.1,236.7 700.6,236.8 701.0,237.0 701.5,237.1 701.9,237.3 702.4,237.5 702.8,237.7 703.1,237.9 703.5,238.2 703.8,238.4 704.0,238.7 704.3,238.9 704.5,239.2 704.7,239.5 704.8,239.8 704.9,240.1 705.0,240.4 705.0,240.7 705.0,241.0 704.9,241.3 704.8,241.6 704.7,241.9 704.5,242.2 704.3,242.5 704.1,242.7 703.8,243.0 703.5,243.2 703.2,243.5"/>
<text transform="matrix(-0.874 0.485 -0.927 -0.375 825 156.8)" font-family="Liberation Sans, sans-serif" font-weight="bold" font-size="22.4" fill="#1c1c1c" stroke="#1c1c1c" stroke-width="0.5" textLength="137" lengthAdjust="spacingAndGlyphs" word-spacing="6">OPEN TO CLEAN</text>
</g>

<!-- 60_small.svg -->
<g id="small">
<g class="t19">
<path class="lw" d="M 517.1 371.4 L 497.3 360.2 C 496.8 355.9 499.8 350.7 503.7 350.3 C 505.9 350.3 507.6 351.6 521.4 364.5 Z"/>
<path class="ln" d="M 499.8 353.3 C 501.6 352.0 505.0 352.0 505.9 353.7 L 520.6 366.2 M 498.6 358.5 L 518.0 369.7 M 500.7 352.9 L 505.9 353.7"/>
<path class="lw" d="M 544.7 371.4 L 561.5 353.3 C 562.4 348.1 559.4 343.8 554.6 343.8 C 552.0 344.0 550.8 345.1 538.7 363.6 Z"/>
<path class="ln" d="M 551.6 347.3 C 553.3 346.0 557.7 346.4 559.4 348.6 M 551.6 347.3 L 539.5 364.5 M 554.2 349.8 L 540.4 366.2 M 559.4 348.6 L 560.2 351.6"/>
<path class="lw" d="M 516.7 370.6 L 516.7 373.1 C 518.0 378.3 524.9 380.9 531.8 380.5 C 538.7 380.0 543.8 376.6 544.3 372.3 L 544.3 370.1"/>
<ellipse class="lw" cx="530.5" cy="370.6" rx="13.8" ry="8.2"/>
<ellipse class="lw" cx="529.6" cy="367.5" rx="10.2" ry="5.9"/>
<ellipse class="lw" cx="529.2" cy="365.2" rx="7.4" ry="4.1"/>
<path class="ln" d="M 517.1 373.1 C 518.8 377.0 524.9 379.2 531.8 378.7 C 538.7 378.3 543.0 375.3 543.8 372.7"/>
<path class="lw" d="M 507.4 444.8 L 507.4 446.3 C 508.5 454.2 518.0 460.3 529.6 460.3 C 541.3 460.3 550.8 454.2 551.9 446.3 L 551.9 444.8"/>
<ellipse class="lw" cx="529.6" cy="444.8" rx="22.3" ry="13.8"/>
<ellipse class="lw" cx="529.2" cy="444.1" rx="8.6" ry="5.3"/>
<polyline class="ln" points="521.8,444.9 521.8,444.6 521.8,444.3 521.9,444.0 522.1,443.7 522.2,443.5 522.4,443.2 522.6,442.9 522.9,442.6 523.2,442.4 523.5,442.2 523.9,441.9 524.3,441.7 524.7,441.5 525.1,441.4 525.6,441.2 526.0,441.0 526.5,440.9 527.0,440.8 527.5,440.7 528.0,440.7 528.6,440.6 529.1,440.6 529.6,440.6 530.1,440.6 530.7,440.7 531.2,440.7 531.7,440.8 532.2,440.9 532.7,441.0 533.1,441.2 533.6,441.4 534.0,441.5 534.4,441.7 534.8,441.9 535.2,442.2 535.5,442.4 535.8,442.6 536.1,442.9 536.3,443.2 536.5,443.5 536.7,443.7 536.8,444.0 536.9,444.3 536.9,444.6 536.9,444.9"/>
</g>
<g class="t15">
<path class="lw" d="M 521.0 497.8 L 529.9 492.5 L 537.2 495.7 L 539.3 542.3 L 540.3 542.8 L 544.0 616.2 L 532.5 624.1 L 525.2 618.8 L 522.5 551.7 Z"/>
<path class="ln" d="M 521.0 497.8 L 522.5 495.2 M 528.3 501.4 C 525.2 500.4 522.5 499.3 521.0 497.8 M 528.3 501.4 L 537.2 495.7 M 528.3 501.4 L 529.3 548.6 L 532.5 624.1 M 522.5 547.6 L 528.3 549.3 L 530.6 547.6 M 523.6 496.7 L 529.3 493.6 L 535.1 496.2 L 528.8 499.9 Z"/>
<ellipse class="ln" cx="538.3" cy="613.1" rx="2.9" ry="4.8" transform="rotate(30 538.3 613.1)"/>
<polygon class="lw" points="568.1,478.9 577.6,473.1 590.1,475.2 592.7,482.6 592.7,490.1 583.8,495.4 572.3,493.3 568.1,486.5"/>
<polygon class="lw" points="568.1,478.9 577.6,473.1 590.1,475.2 592.7,482.6 583.8,487.8 572.3,485.7"/>
<line class="ln" x1="583.8" y1="487.8" x2="583.8" y2="495.4"/>
<line class="ln" x1="572.3" y1="485.7" x2="572.3" y2="493.3"/>
<ellipse class="ln" cx="580.2" cy="480.5" rx="8.9" ry="5.5"/>
<ellipse class="ln" cx="580.2" cy="480.5" rx="7.3" ry="4.4"/>
<path class="lw" d="M 566.5 508.3 L 566.5 510.3 C 568.1 516.1 573.4 518.7 580.2 518.7 C 587.0 518.7 592.7 516.1 593.8 510.3 L 593.8 508.3"/>
<ellipse class="lw" cx="580.2" cy="508.3" rx="13.6" ry="8.4"/>
<ellipse class="lw" cx="580.2" cy="507.7" rx="8.2" ry="4.8"/>
<ellipse class="ln" cx="580.2" cy="508.4" rx="9.4" ry="5.8"/>
<polygon class="lw" points="900.4,656.4 907.8,649.0 920.7,649.4 925.8,656.4 925.8,665.2 917.9,670.7 905.4,669.8 900.4,665.2"/>
<polygon class="lw" points="900.4,656.4 907.8,649.0 920.7,649.4 925.8,656.4 917.9,661.9 905.4,661.0"/>
<line class="ln" x1="917.9" y1="661.9" x2="917.9" y2="670.7"/>
<line class="ln" x1="905.4" y1="661.0" x2="905.4" y2="669.8"/>
<ellipse class="ln" cx="913.1" cy="655.4" rx="9.0" ry="5.3"/>
<ellipse class="ln" cx="913.1" cy="655.4" rx="7.4" ry="4.3"/>
<path class="lw" d="M 899.4 726.2 L 899.4 727.6 C 900.8 732.7 906.8 735.5 912.8 735.5 C 918.9 735.5 924.9 732.7 926.3 727.6 L 926.3 726.2"/>
<ellipse class="lw" cx="912.8" cy="726.2" rx="13.4" ry="8.3"/>
<ellipse class="lw" cx="912.8" cy="725.8" rx="7.9" ry="4.6"/>
<ellipse class="ln" cx="912.8" cy="726.4" rx="9.3" ry="5.6"/>
<path class="lw" d="M 994.2 682.7 C 992.4 685.5 993.3 688.3 995.2 689.2 L 1014.1 699.8 C 1016.9 700.8 1019.7 697.5 1019.2 694.8 C 1018.8 693.4 1018.3 692.9 1017.4 692.2 L 998.4 681.1 C 996.6 680.4 995.2 681.3 994.2 682.7 Z"/>
<ellipse class="ln" cx="1016.4" cy="696.1" rx="2.6" ry="4.3" transform="rotate(30 1016.4 696.1)"/>
</g>
<g class="t15">
<path class="lw" d="M 521.1 1130.6 L 524.8 1128.6 L 524.8 1114.2 L 547.7 1114.2 L 547.7 1127.1 L 551.8 1136.6 L 551.4 1138.8 L 538.8 1144.8 L 525.9 1140.9 L 521.6 1133.2 Z"/>
<path class="ln" d="M 521.1 1130.6 L 521.6 1133.2 L 525.9 1140.9 L 538.8 1144.8 L 551.4 1138.8 L 551.8 1136.6 L 547.7 1127.1 M 527.6 1137.5 L 538.8 1140.1 L 549.6 1134.5 M 538.8 1140.1 L 538.8 1144.8 M 524.8 1133.2 C 528.1 1136.2 532.8 1137.3 536.3 1137.1 C 541.0 1137.0 545.3 1134.9 547.7 1131.4 M 549.6 1134.5 L 547.7 1128.8 M 521.1 1130.6 L 524.8 1128.8 M 523.3 1129.7 L 527.6 1137.5 M 525.9 1140.9 L 528.1 1140.1 L 538.8 1142.4 L 551.4 1136.8"/>
<ellipse class="lw" cx="536.3" cy="1114.2" rx="11.4" ry="6.9"/>
<ellipse class="ln" cx="536.3" cy="1113.3" rx="8.0" ry="4.3"/>
<path class="ln" d="M 524.8 1114.2 L 524.8 1133.2 M 547.7 1114.2 L 547.7 1131.4"/>
</g>
<path class="lw" d="M 977.8 501.7 L 990.7 509.2 C 997.5 512.5 1001.5 515.3 1001.7 520.7 L 1001.5 532.2 L 1000.2 533.6 L 999.8 566.1 C 998.8 568.8 993.4 570.2 990.0 567.8 L 984.6 564.4 L 984.6 561.4 L 962.9 572.9 L 977.8 553.9 Z"/>
<path class="ln" d="M 977.8 520.0 L 997.5 510.5 M 985.3 531.5 L 1000.5 523.4 M 990.7 537.6 L 1000.3 532.5 M 981.9 520.0 C 985.3 524.1 986.9 528.8 985.3 532.2 C 983.9 533.6 980.5 536.9 977.8 539.7 M 985.3 534.2 C 990.7 536.3 993.4 541.0 993.4 546.4 L 993.4 554.6 L 990.0 558.0 L 990.0 567.5 M 977.8 553.9 L 993.4 545.1 M 990.0 558.0 L 962.9 572.9 M 977.8 504.4 L 988.0 510.5 C 994.1 513.9 998.8 516.6 999.2 522.0 L 999.2 531.5"/>
</g>

<!-- 70_rodfront.svg -->
<g id="rodfront">
<path class="lw" d="M767.3 717.5 L767.3 1105.5 A7.9 4.5 0 0 0 783.2 1105.5 L783.2 717.5 Z"/>
<ellipse class="lw" cx="775.2" cy="717.3" rx="7.9" ry="4.4"/><ellipse class="ln" cx="775.2" cy="716.8" rx="5.0" ry="2.6"/>
</g>

<!-- 80_arrows.svg -->
<g id="arrows">
<line class="ar" x1="1043.7" y1="146.0" x2="842.0" y2="200.6"/>
<polygon class="ah" points="825.6,205.0 845.3,193.7 842.0,200.6 848.4,204.9"/>
<line class="ar" x1="1013.2" y1="262.7" x2="883.7" y2="296.9"/>
<polygon class="ah" points="867.3,301.2 887.1,290.0 883.7,296.9 890.1,301.2"/>
<line class="ar" x1="1185.0" y1="490.8" x2="971.5" y2="510.3"/>
<polygon class="ah" points="954.6,511.8 976.0,504.0 971.5,510.3 977.0,515.6"/>
<line class="ar" x1="1086.4" y1="671.3" x2="984.2" y2="745.0"/>
<polygon class="ah" points="970.4,754.9 984.9,737.3 984.2,745.0 991.6,746.7"/>
<line class="ar" x1="1094.7" y1="847.4" x2="904.0" y2="818.1"/>
<polygon class="ah" points="887.2,815.5 909.8,813.1 904.0,818.1 908.1,824.6"/>
<line class="ar" x1="1078.4" y1="1005.1" x2="937.5" y2="1010.5"/>
<polygon class="ah" points="920.5,1011.2 942.3,1004.6 937.5,1010.5 942.7,1016.1"/>
<line class="ar" x1="989.6" y1="1192.7" x2="857.2" y2="1143.6"/>
<polygon class="ah" points="841.3,1137.7 863.9,1139.9 857.2,1143.6 859.9,1150.8"/>
<line class="ar" x1="307.0" y1="198.4" x2="513.7" y2="537.1"/>
<polygon class="ah" points="522.6,551.6 506.2,535.8 513.7,537.1 516.1,529.8"/>
<line class="ar" x1="376.5" y1="311.1" x2="483.9" y2="349.6"/>
<polygon class="ah" points="499.9,355.3 477.2,353.3 483.9,349.6 481.1,342.4"/>
<line class="ar" x1="446.0" y1="425.4" x2="497.0" y2="437.9"/>
<polygon class="ah" points="513.5,442.0 490.8,442.4 497.0,437.9 493.5,431.1"/>
<line class="ar" x1="376.5" y1="1079.7" x2="379.2" y2="942.5"/>
<polygon class="ah" points="379.5,925.5 384.9,947.6 379.2,942.5 373.3,947.4"/>
<line class="ar" x1="420.7" y1="1225.7" x2="519.9" y2="1141.8"/>
<polygon class="ah" points="532.9,1130.8 519.8,1149.4 519.9,1141.8 512.4,1140.6"/>
</g>

<!-- 90_text.svg -->
<g id="labels">
<text class="sf" x="475.5" y="34.6" textLength="647.0" lengthAdjust="spacingAndGlyphs" style="font-size:47px" xml:space="preserve">Fig. 0500  Intake Water Strainer Spare Parts</text>
<text class="sf" x="271.0" y="161.0" textLength="199.4" lengthAdjust="spacingAndGlyphs">Hinged Bolt for Cover</text>
<text class="sf" x="271.0" y="185.0" textLength="295.2" lengthAdjust="spacingAndGlyphs">with Pin, Nut, and Washers - 99L</text>
<text class="sf" x="1060.9" y="146.4" textLength="216.5" lengthAdjust="spacingAndGlyphs">Cover with Gasket - 99E</text>
<text class="sf" x="1022.9" y="244.0" textLength="354.4" lengthAdjust="spacingAndGlyphs">Cover Gasket - 99N (Set of 2 Cork only)</text>
<text class="sf" x="1022.9" y="268.0" textLength="304.6" lengthAdjust="spacingAndGlyphs">or Sold in Gasket Set - 99M &amp; 99R</text>
<text class="sf" x="1022.9" y="292.0" textLength="99.1" lengthAdjust="spacingAndGlyphs">Consists of</text>
<text class="sf" x="1163.5" y="292.0" textLength="181.0" lengthAdjust="spacingAndGlyphs">1- Cover Gasket and</text>
<text class="sf" x="1163.5" y="316.0" textLength="176.3" lengthAdjust="spacingAndGlyphs">2- Cylinder Gaskets</text>
<text class="sf" x="1203.8" y="497.0" textLength="161.5" lengthAdjust="spacingAndGlyphs">Top Casting - 99A</text>
<text class="sf" x="1098.2" y="656.5" textLength="307.1" lengthAdjust="spacingAndGlyphs">Tie Rods, Nuts, and Washers - 99P</text>
<text class="sf" x="1098.2" y="680.2" textLength="306.6" lengthAdjust="spacingAndGlyphs">(Sold Individually for 0500 Series)</text>
<text class="sf" x="1102.0" y="852.4" textLength="245.7" lengthAdjust="spacingAndGlyphs">Transparent Cylinder - 99C</text>
<text class="sf" x="1085.2" y="996.8" textLength="144.7" lengthAdjust="spacingAndGlyphs">Cylinder Gasket</text>
<text class="sf" x="1085.2" y="1020.5" textLength="324.6" lengthAdjust="spacingAndGlyphs">Sold only in Gasket Set - 99M &amp; 99R</text>
<text class="sf" x="1085.2" y="1044.2" textLength="98.8" lengthAdjust="spacingAndGlyphs">Consists of</text>
<text class="sf" x="1225.8" y="1044.2" textLength="181.7" lengthAdjust="spacingAndGlyphs">1- Cover Gasket and</text>
<text class="sf" x="1225.8" y="1068.7" textLength="176.0" lengthAdjust="spacingAndGlyphs">2- Cylinder Gaskets</text>
<text class="sf" x="1000.5" y="1199.5" textLength="193.3" lengthAdjust="spacingAndGlyphs">Bottom Casting - 99B</text>
<text class="sf" x="328.4" y="1098.2" textLength="79.4" lengthAdjust="spacingAndGlyphs">Fig. 0500</text>
<text class="sf" x="273.4" y="1122.1" textLength="189.9" lengthAdjust="spacingAndGlyphs">Basket Strainer - 99D</text>
<text class="sf" x="279.1" y="1222.0" textLength="98.4" lengthAdjust="spacingAndGlyphs">Drain Plug</text>
<text class="sf" x="279.1" y="1246.2" textLength="164.0" lengthAdjust="spacingAndGlyphs">1/4” N.P.T. Bronze</text>
<rect x="214" y="1308.6" width="1209" height="4.6" fill="#25499b"/>
<text class="sb" x="647.6" y="1340.6" textLength="356.3" lengthAdjust="spacingAndGlyphs" style="font-size:22px">Spare Parts Ordering Information</text>
<rect x="647.6" y="1343.4" width="356.3" height="1.8" fill="#1d1d1b"/>
<text class="ss" x="274.4" y="1365.6" textLength="1102.7" lengthAdjust="spacingAndGlyphs" style="font-size:15.6px">For Spare Part No. Insert a Spare Part Code Listed Below in Place of the “PLB” in the Strainer’s Catalog Number (i.e., 050000999A, Top Casting for 2” (#9) Strainer).</text>
<text class="sb" x="538.3" y="1395.9" textLength="77.2" lengthAdjust="spacingAndGlyphs">Spare Part</text>
<text class="sb" x="646.0" y="1395.9" textLength="55.5" lengthAdjust="spacingAndGlyphs">Sample</text>
<text class="sb" x="294.8" y="1412.3" textLength="86.0" lengthAdjust="spacingAndGlyphs">Description</text>
<text class="sb" x="558.0" y="1412.3" textLength="37.5" lengthAdjust="spacingAndGlyphs">Code</text>
<text class="sb" x="626.7" y="1412.3" textLength="94.6" lengthAdjust="spacingAndGlyphs">Part Number</text>
<text class="sb" x="740.9" y="1412.3" textLength="62.2" lengthAdjust="spacingAndGlyphs">Package</text>
<text class="ss" x="294.6" y="1431.7" textLength="80.8" lengthAdjust="spacingAndGlyphs">Top Casting</text>
<text class="ss" x="562.9" y="1431.7" textLength="27.4" lengthAdjust="spacingAndGlyphs">99A</text>
<text class="ss" x="629.9" y="1431.7" textLength="87.5" lengthAdjust="spacingAndGlyphs">050000999A</text>
<text class="ss" x="750.4" y="1431.7" textLength="43.0" lengthAdjust="spacingAndGlyphs">Boxed</text>
<text class="ss" x="294.6" y="1453.2" textLength="107.9" lengthAdjust="spacingAndGlyphs">Bottom Casting</text>
<text class="ss" x="562.9" y="1453.2" textLength="27.4" lengthAdjust="spacingAndGlyphs">99B</text>
<text class="ss" x="629.9" y="1453.2" textLength="87.5" lengthAdjust="spacingAndGlyphs">050000999B</text>
<text class="ss" x="750.4" y="1453.2" textLength="43.0" lengthAdjust="spacingAndGlyphs">Boxed</text>
<text class="ss" x="294.6" y="1474.8" textLength="144.1" lengthAdjust="spacingAndGlyphs">Transparent Cylinder</text>
<text class="ss" x="562.9" y="1474.8" textLength="27.4" lengthAdjust="spacingAndGlyphs">99C</text>
<text class="ss" x="629.9" y="1474.8" textLength="87.5" lengthAdjust="spacingAndGlyphs">050000999C</text>
<text class="ss" x="750.4" y="1474.8" textLength="43.0" lengthAdjust="spacingAndGlyphs">Boxed</text>
<text class="ss" x="294.6" y="1496.3" textLength="103.0" lengthAdjust="spacingAndGlyphs">Basket Strainer</text>
<text class="ss" x="562.9" y="1496.3" textLength="27.4" lengthAdjust="spacingAndGlyphs">99D</text>
<text class="ss" x="629.9" y="1496.3" textLength="87.5" lengthAdjust="spacingAndGlyphs">050000999D</text>
<text class="ss" x="750.4" y="1496.3" textLength="43.0" lengthAdjust="spacingAndGlyphs">Boxed</text>
<text class="ss" x="294.6" y="1517.8" textLength="125.4" lengthAdjust="spacingAndGlyphs">Cover with Gasket</text>
<text class="ss" x="562.9" y="1517.8" textLength="27.4" lengthAdjust="spacingAndGlyphs">99E</text>
<text class="ss" x="629.9" y="1517.8" textLength="87.5" lengthAdjust="spacingAndGlyphs">050000999E</text>
<text class="ss" x="750.4" y="1517.8" textLength="43.0" lengthAdjust="spacingAndGlyphs">Boxed</text>
<text class="ss" x="294.6" y="1539.4" textLength="149.4" lengthAdjust="spacingAndGlyphs">Hinged Bolt for Cover</text>
<text class="ss" x="294.6" y="1561.0" textLength="175.0" lengthAdjust="spacingAndGlyphs">With Pin, Nut and Washer</text>
<text class="ss" x="562.9" y="1561.0" textLength="27.4" lengthAdjust="spacingAndGlyphs">99L</text>
<text class="ss" x="629.1" y="1561.0" textLength="89.0" lengthAdjust="spacingAndGlyphs">0500DP999L</text>
<text class="ss" x="759.1" y="1561.0" textLength="25.6" lengthAdjust="spacingAndGlyphs">Bag</text>
<text class="ss" x="294.6" y="1582.7" textLength="214.0" lengthAdjust="spacingAndGlyphs">Cork Cover Gasket Kit (Set of 2)</text>
<text class="ss" x="562.9" y="1582.7" textLength="27.4" lengthAdjust="spacingAndGlyphs">99N</text>
<text class="ss" x="629.1" y="1582.7" textLength="89.0" lengthAdjust="spacingAndGlyphs">0500DP999N</text>
<text class="ss" x="759.1" y="1582.7" textLength="25.6" lengthAdjust="spacingAndGlyphs">Bag</text>
<rect x="838.6" y="1394" width="2.4" height="181.7" fill="#1d1d1b"/>
<text class="sb" x="1105.2" y="1395.9" textLength="77.0" lengthAdjust="spacingAndGlyphs">Spare Part</text>
<text class="sb" x="1213.0" y="1395.9" textLength="55.0" lengthAdjust="spacingAndGlyphs">Sample</text>
<text class="sb" x="861.6" y="1412.3" textLength="85.4" lengthAdjust="spacingAndGlyphs">Description</text>
<text class="sb" x="1124.6" y="1412.3" textLength="37.5" lengthAdjust="spacingAndGlyphs">Code</text>
<text class="sb" x="1193.0" y="1412.3" textLength="95.0" lengthAdjust="spacingAndGlyphs">Part Number</text>
<text class="sb" x="1307.9" y="1412.3" textLength="61.5" lengthAdjust="spacingAndGlyphs">Package</text>
<text class="ss" x="861.6" y="1431.7" textLength="188.0" lengthAdjust="spacingAndGlyphs">Cork Gasket Kit Consists of:</text>
<text class="ss" x="861.6" y="1450.6" textLength="138.1" lengthAdjust="spacingAndGlyphs">1- Cover Gasket and</text>
<text class="ss" x="861.6" y="1469.9" textLength="167.7" lengthAdjust="spacingAndGlyphs">2- Cork Cylinder Gaskets</text>
<text class="ss" x="1125.2" y="1469.9" textLength="37.0" lengthAdjust="spacingAndGlyphs">99M*</text>
<text class="ss" x="1193.8" y="1469.9" textLength="93.8" lengthAdjust="spacingAndGlyphs">0500DP999M</text>
<text class="ss" x="1325.5" y="1469.9" textLength="26.0" lengthAdjust="spacingAndGlyphs">Bag</text>
<text class="ss" x="861.6" y="1488.9" textLength="207.4" lengthAdjust="spacingAndGlyphs">Rubber Gasket Kit Consists of:</text>
<text class="ss" x="861.6" y="1507.9" textLength="138.1" lengthAdjust="spacingAndGlyphs">1- Cover Gasket and</text>
<text class="ss" x="861.6" y="1527.4" textLength="187.0" lengthAdjust="spacingAndGlyphs">2- Rubber Cylinder Gaskets</text>
<text class="ss" x="1127.2" y="1527.4" textLength="33.0" lengthAdjust="spacingAndGlyphs">99R*</text>
<text class="ss" x="1196.1" y="1527.4" textLength="89.2" lengthAdjust="spacingAndGlyphs">0500DP999R</text>
<text class="ss" x="1325.5" y="1527.4" textLength="26.0" lengthAdjust="spacingAndGlyphs">Bag</text>
<text class="ss" x="861.6" y="1546.5" textLength="191.9" lengthAdjust="spacingAndGlyphs">Tie Rods, Nuts, and Washers</text>
<text class="ss" x="861.6" y="1565.5" textLength="238.3" lengthAdjust="spacingAndGlyphs">Consists of (1 Each for 0500 Series)</text>
<text class="ss" x="1130.7" y="1565.5" textLength="26.0" lengthAdjust="spacingAndGlyphs">99P</text>
<text class="ss" x="1196.1" y="1565.5" textLength="89.2" lengthAdjust="spacingAndGlyphs">0500DP999P</text>
<text class="ss" x="1325.5" y="1565.5" textLength="26.0" lengthAdjust="spacingAndGlyphs">Bag</text>
<text class="ss" x="254.5" y="1609.8" textLength="1142.2" lengthAdjust="spacingAndGlyphs" style="font-size:17.2px">* Note: Older model strainers utilizing cork cylinder gaskets must order 99M Cork Gasket Kit and newer model strainers must order 99R Rubber Gasket Kit.</text>
</g>

</svg>
</body></html>
